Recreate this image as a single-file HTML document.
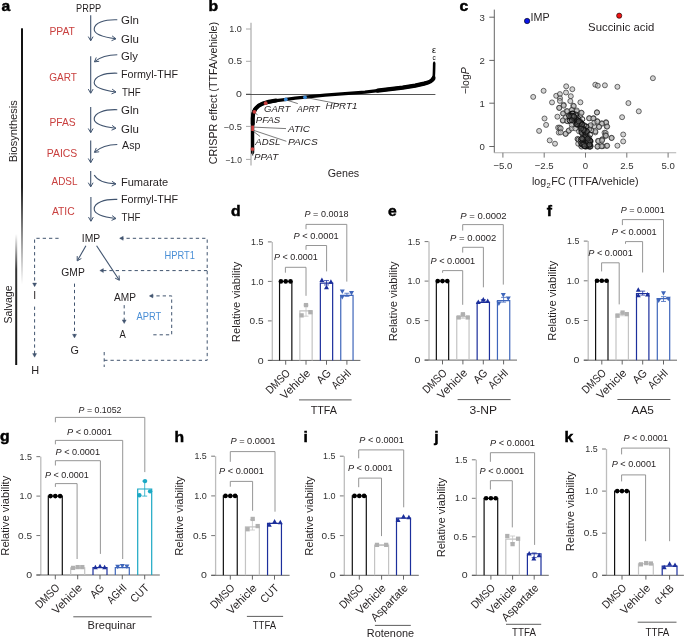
<!DOCTYPE html><html><head><meta charset="utf-8"><style>html,body{margin:0;padding:0;background:#fff;}svg{display:block;will-change:transform;}text{font-family:"Liberation Sans",sans-serif;}</style></head><body>
<svg width="685" height="637" viewBox="0 0 685 637">
<text x="0" y="0" font-size="14" font-weight="bold" fill="#000" stroke="#000" stroke-width="0.45" transform="translate(1.5,11.3) scale(1.12,1)">a</text>
<defs><linearGradient id="gb" x1="0" y1="0" x2="0" y2="1"><stop offset="0" stop-color="#111"/><stop offset="0.62" stop-color="#222"/><stop offset="1" stop-color="#fff"/></linearGradient><linearGradient id="gs" x1="0" y1="0" x2="0" y2="1"><stop offset="0" stop-color="#fff"/><stop offset="0.27" stop-color="#333"/><stop offset="1" stop-color="#111"/></linearGradient></defs>
<rect x="21.0" y="28.3" width="2" height="256" fill="url(#gb)"/>
<rect x="15.2" y="234" width="2" height="131" fill="url(#gs)"/>
<text x="0" y="0" font-size="10.4" fill="#231f20" textLength="62" lengthAdjust="spacingAndGlyphs" transform="translate(17.0,162.3) rotate(-90)">Biosynthesis</text>
<text x="0" y="0" font-size="10.4" fill="#231f20" textLength="38" lengthAdjust="spacingAndGlyphs" transform="translate(11.8,323.5) rotate(-90)">Salvage</text>
<text x="76.1" y="12.3" font-size="10.4" fill="#231f20" textLength="25.1" lengthAdjust="spacingAndGlyphs">PRPP</text>
<text x="49.4" y="35.2" font-size="10.4" fill="#c9403f" textLength="25.5" lengthAdjust="spacingAndGlyphs">PPAT</text>
<text x="49.3" y="80.7" font-size="10.4" fill="#c9403f" textLength="27.7" lengthAdjust="spacingAndGlyphs">GART</text>
<text x="49.4" y="125.7" font-size="10.4" fill="#c9403f" textLength="26.3" lengthAdjust="spacingAndGlyphs">PFAS</text>
<text x="46.8" y="157.3" font-size="10.4" fill="#c9403f" textLength="30.5" lengthAdjust="spacingAndGlyphs">PAICS</text>
<text x="51.6" y="184.9" font-size="10.4" fill="#c9403f" textLength="25.9" lengthAdjust="spacingAndGlyphs">ADSL</text>
<text x="51.9" y="214.7" font-size="10.4" fill="#c9403f" textLength="22.8" lengthAdjust="spacingAndGlyphs">ATIC</text>
<text x="121.0" y="23.9" font-size="10.4" fill="#231f20" textLength="17.9" lengthAdjust="spacingAndGlyphs">Gln</text>
<text x="121.0" y="42.8" font-size="10.4" fill="#231f20" textLength="17.9" lengthAdjust="spacingAndGlyphs">Glu</text>
<text x="121.0" y="59.9" font-size="10.4" fill="#231f20" textLength="17.0" lengthAdjust="spacingAndGlyphs">Gly</text>
<text x="120.9" y="77.7" font-size="10.4" fill="#231f20" textLength="57.1" lengthAdjust="spacingAndGlyphs">Formyl-THF</text>
<text x="121.9" y="96.3" font-size="10.4" fill="#231f20" textLength="18.8" lengthAdjust="spacingAndGlyphs">THF</text>
<text x="121.0" y="113.8" font-size="10.4" fill="#231f20" textLength="17.9" lengthAdjust="spacingAndGlyphs">Gln</text>
<text x="121.0" y="133.2" font-size="10.4" fill="#231f20" textLength="17.9" lengthAdjust="spacingAndGlyphs">Glu</text>
<text x="122.1" y="148.9" font-size="10.4" fill="#231f20" textLength="18.3" lengthAdjust="spacingAndGlyphs">Asp</text>
<text x="120.9" y="185.7" font-size="10.4" fill="#231f20" textLength="47.3" lengthAdjust="spacingAndGlyphs">Fumarate</text>
<text x="120.9" y="202.7" font-size="10.4" fill="#231f20" textLength="57.3" lengthAdjust="spacingAndGlyphs">Formyl-THF</text>
<text x="121.6" y="221.2" font-size="10.4" fill="#231f20" textLength="18.9" lengthAdjust="spacingAndGlyphs">THF</text>
<line x1="90.70" y1="15.30" x2="90.70" y2="40.50" stroke="#41546f" stroke-width="1.1"/>
<path d="M88.30,36.60L90.70,40.80L93.10,36.60" fill="none" stroke="#41546f" stroke-width="1" stroke-linejoin="miter"/>
<line x1="90.70" y1="56.20" x2="90.70" y2="93.00" stroke="#41546f" stroke-width="1.1"/>
<path d="M88.30,89.10L90.70,93.30L93.10,89.10" fill="none" stroke="#41546f" stroke-width="1" stroke-linejoin="miter"/>
<line x1="90.70" y1="106.90" x2="90.70" y2="132.40" stroke="#41546f" stroke-width="1.1"/>
<path d="M88.30,128.50L90.70,132.70L93.10,128.50" fill="none" stroke="#41546f" stroke-width="1" stroke-linejoin="miter"/>
<line x1="90.70" y1="140.40" x2="90.70" y2="162.40" stroke="#41546f" stroke-width="1.1"/>
<path d="M88.30,158.50L90.70,162.70L93.10,158.50" fill="none" stroke="#41546f" stroke-width="1" stroke-linejoin="miter"/>
<line x1="90.70" y1="171.00" x2="90.70" y2="186.60" stroke="#41546f" stroke-width="1.1"/>
<path d="M88.30,182.70L90.70,186.90L93.10,182.70" fill="none" stroke="#41546f" stroke-width="1" stroke-linejoin="miter"/>
<line x1="90.90" y1="196.90" x2="90.90" y2="221.00" stroke="#41546f" stroke-width="1.1"/>
<path d="M88.50,217.10L90.90,221.30L93.30,217.10" fill="none" stroke="#41546f" stroke-width="1" stroke-linejoin="miter"/>
<path d="M117.3,19.8C104,19.3 94.2,23.3 94.2,29.3C94.2,34.3 104,37.3 115.8,38.8" stroke="#41546f" stroke-width="1.1" fill="none"/>
<path d="M111.54,40.68L116.00,38.80L112.12,35.91" fill="none" stroke="#41546f" stroke-width="1" stroke-linejoin="miter"/>
<path d="M117.3,73.2C104,72.7 94.2,76.6 94.2,82.6C94.2,87.6 104,90.5 115.8,92.0" stroke="#41546f" stroke-width="1.1" fill="none"/>
<path d="M111.54,93.88L116.00,92.00L112.12,89.11" fill="none" stroke="#41546f" stroke-width="1" stroke-linejoin="miter"/>
<path d="M117.3,109.7C104,109.2 94.2,113.0 94.2,119.0C94.2,124.0 104,126.8 115.8,128.3" stroke="#41546f" stroke-width="1.1" fill="none"/>
<path d="M111.54,130.18L116.00,128.30L112.12,125.41" fill="none" stroke="#41546f" stroke-width="1" stroke-linejoin="miter"/>
<path d="M117.3,199.4C104,198.9 94.2,202.9 94.2,208.9C94.2,213.9 104,217.0 115.8,218.5" stroke="#41546f" stroke-width="1.1" fill="none"/>
<path d="M111.54,220.38L116.00,218.50L112.12,215.61" fill="none" stroke="#41546f" stroke-width="1" stroke-linejoin="miter"/>
<path d="M117.3,54.8C108,54.8 100,57.2 94.6,61.7" stroke="#41546f" stroke-width="1.1" fill="none"/>
<path d="M96.29,57.45L94.40,61.90L99.20,61.27" fill="none" stroke="#41546f" stroke-width="1" stroke-linejoin="miter"/>
<path d="M117.3,144.5C108,144.5 100,147.3 94.6,152.2" stroke="#41546f" stroke-width="1.1" fill="none"/>
<path d="M96.29,147.95L94.40,152.40L99.20,151.77" fill="none" stroke="#41546f" stroke-width="1" stroke-linejoin="miter"/>
<path d="M94.2,175.1C97,180 104,183.6 115.6,183.9" stroke="#41546f" stroke-width="1.1" fill="none"/>
<path d="M111.69,186.09L116.00,183.90L111.93,181.29" fill="none" stroke="#41546f" stroke-width="1" stroke-linejoin="miter"/>
<text x="81.8" y="242.0" font-size="10.4" fill="#231f20" textLength="18.4" lengthAdjust="spacingAndGlyphs">IMP</text>
<text x="61.3" y="275.6" font-size="10.4" fill="#231f20" textLength="23.5" lengthAdjust="spacingAndGlyphs">GMP</text>
<text x="114.0" y="300.5" font-size="10.4" fill="#231f20" textLength="22.0" lengthAdjust="spacingAndGlyphs">AMP</text>
<text x="33.2" y="299.0" font-size="10.4" fill="#231f20">I</text>
<text x="70.6" y="353.5" font-size="10.4" fill="#231f20" textLength="8.4" lengthAdjust="spacingAndGlyphs">G</text>
<text x="119.6" y="337.9" font-size="10.4" fill="#231f20" textLength="6.3" lengthAdjust="spacingAndGlyphs">A</text>
<text x="31.3" y="373.5" font-size="10.4" fill="#231f20" textLength="7.9" lengthAdjust="spacingAndGlyphs">H</text>
<text x="164.6" y="258.9" font-size="10.4" fill="#4a8fd6" textLength="30.3" lengthAdjust="spacingAndGlyphs">HPRT1</text>
<text x="136.4" y="320.4" font-size="10.4" fill="#4a8fd6" textLength="24.8" lengthAdjust="spacingAndGlyphs">APRT</text>
<line x1="85.90" y1="245.80" x2="77.60" y2="260.30" stroke="#41546f" stroke-width="1.1"/>
<path d="M77.22,256.06L77.20,260.90L81.38,258.46" fill="none" stroke="#41546f" stroke-width="1" stroke-linejoin="miter"/>
<line x1="96.60" y1="245.80" x2="119.00" y2="279.70" stroke="#41546f" stroke-width="1.1"/>
<path d="M115.08,278.12L119.40,280.30L119.09,275.47" fill="none" stroke="#41546f" stroke-width="1" stroke-linejoin="miter"/>
<path d="M58.6,238.3H34.6V286" stroke="#41546f" stroke-width="1.0" fill="none" stroke-dasharray="3.3,3"/>
<path d="M32.60,283.10L34.60,286.70L36.60,283.10Z" fill="#41546f" stroke="#41546f" stroke-width="0.4" stroke-linejoin="miter"/>
<path d="M34.6,306.6V356.5" stroke="#41546f" stroke-width="1.0" fill="none" stroke-dasharray="3.3,3"/>
<path d="M32.60,353.60L34.60,357.20L36.60,353.60Z" fill="#41546f" stroke="#41546f" stroke-width="0.4" stroke-linejoin="miter"/>
<path d="M74.5,283.6V337" stroke="#41546f" stroke-width="1.0" fill="none" stroke-dasharray="3.3,3"/>
<path d="M72.50,334.30L74.50,337.90L76.50,334.30Z" fill="#41546f" stroke="#41546f" stroke-width="0.4" stroke-linejoin="miter"/>
<path d="M124.2,305.1V322.8" stroke="#41546f" stroke-width="1.0" fill="none" stroke-dasharray="3.3,3"/>
<path d="M122.20,319.90L124.20,323.50L126.20,319.90Z" fill="#41546f" stroke="#41546f" stroke-width="0.4" stroke-linejoin="miter"/>
<path d="M120.2,238.3H207.2V360.3H104.2" stroke="#41546f" stroke-width="1.0" fill="none" stroke-dasharray="3.3,3"/>
<path d="M123.20,236.30L119.60,238.30L123.20,240.30Z" fill="#41546f" stroke="#41546f" stroke-width="0.4" stroke-linejoin="miter"/>
<path d="M104.2,352V367" stroke="#41546f" stroke-width="1.0" fill="none" stroke-dasharray="3.3,3"/>
<path d="M207.2,270.6H100.3" stroke="#41546f" stroke-width="1.0" fill="none" stroke-dasharray="3.3,3"/>
<path d="M103.40,268.60L99.80,270.60L103.40,272.60Z" fill="#41546f" stroke="#41546f" stroke-width="0.4" stroke-linejoin="miter"/>
<path d="M153.3,334.8H171.7V295.9H150" stroke="#41546f" stroke-width="1.0" fill="none" stroke-dasharray="3.3,3"/>
<path d="M152.90,293.90L149.30,295.90L152.90,297.90Z" fill="#41546f" stroke="#41546f" stroke-width="0.4" stroke-linejoin="miter"/>
<text x="0" y="0" font-size="14" font-weight="bold" fill="#000" stroke="#000" stroke-width="0.45" transform="translate(208.5,10.9) scale(1.12,1)">b</text>
<line x1="251.00" y1="22.80" x2="251.00" y2="165.60" stroke="#b8b8b8" stroke-width="1.4"/>
<line x1="246.00" y1="29.00" x2="251.00" y2="29.00" stroke="#aaa" stroke-width="1.0"/>
<text x="229.3" y="32.1" font-size="8.6" fill="#333" textLength="12.6" lengthAdjust="spacingAndGlyphs">1.0</text>
<line x1="246.00" y1="61.30" x2="251.00" y2="61.30" stroke="#aaa" stroke-width="1.0"/>
<text x="228.0" y="64.4" font-size="8.6" fill="#333" textLength="14.0" lengthAdjust="spacingAndGlyphs">0.5</text>
<line x1="246.00" y1="94.00" x2="251.00" y2="94.00" stroke="#aaa" stroke-width="1.0"/>
<text x="236.1" y="97.1" font-size="8.6" fill="#333" textLength="5.9" lengthAdjust="spacingAndGlyphs">0</text>
<line x1="246.00" y1="126.40" x2="251.00" y2="126.40" stroke="#aaa" stroke-width="1.0"/>
<text x="223.6" y="129.5" font-size="8.6" fill="#333" textLength="18.3" lengthAdjust="spacingAndGlyphs">−0.5</text>
<line x1="246.00" y1="159.40" x2="251.00" y2="159.40" stroke="#aaa" stroke-width="1.0"/>
<text x="225.2" y="162.5" font-size="8.6" fill="#333" textLength="16.7" lengthAdjust="spacingAndGlyphs">−1.0</text>
<line x1="246.00" y1="94.50" x2="435.40" y2="94.50" stroke="#444" stroke-width="0.9"/>
<text x="-0.54" y="0" font-size="10.2" fill="#231f20" textLength="142.41" lengthAdjust="spacingAndGlyphs" transform="translate(216.80,163.70) rotate(-90)">CRISPR effect (TTFA/vehicle)</text>
<text x="327.7" y="177.1" font-size="10.6" fill="#231f20" textLength="31.5" lengthAdjust="spacingAndGlyphs">Genes</text>
<path d="M252.6,152.5 L252.6,118 C252.7,110 256,106 262.6,103.6 C268,101.8 276,100.6 282.7,99.8 L295.2,98.2 L307.8,96.9 L325,95.2 L345,93.7 L365,92.2 L377.6,90.6 L390.1,89.2 L402.7,87.7 L415.2,85.6 L424,83.7 C429,82.5 432.6,80.6 433.7,77.2" stroke="#000" stroke-width="3.3" fill="none" stroke-linejoin="round" stroke-linecap="round"/>
<path d="M433.6,78.5 C434.0,75 434.1,70 434.2,63.2" stroke="#000" stroke-width="2.6" fill="none" stroke-linejoin="round" stroke-linecap="round"/>
<path d="M252.8,124 L252.8,118 C252.9,110 256,106 262.6,103.6 C267,102.1 271,101.3 276,100.6" stroke="#000" stroke-width="4.0" fill="none" stroke-linejoin="round" stroke-linecap="round"/>
<path d="M377.6,90.6 L390.1,89.2 L402.7,87.7 L415.2,85.6 L424,83.7 C429,82.5 432.4,80.8 433.4,78.5" stroke="#000" stroke-width="4.3" fill="none" stroke-linejoin="round" stroke-linecap="round"/>
<path d="M252.6,150 L252.6,155.5" stroke="#555" stroke-width="1.4" fill="none"/>
<path d="M434.2,64 L434.2,61.5" stroke="#000" stroke-width="1.2" fill="none"/>
<text x="432.0" y="52.9" font-size="9.0" fill="#000">ε</text>
<text x="432.4" y="59.9" font-size="6.4" fill="#000">c</text>
<line x1="253.20" y1="127.10" x2="286.00" y2="128.60" stroke="#444" stroke-width="0.7"/>
<line x1="253.20" y1="130.20" x2="286.40" y2="141.30" stroke="#444" stroke-width="0.7"/>
<line x1="253.20" y1="131.20" x2="260.10" y2="136.50" stroke="#444" stroke-width="0.7"/>
<line x1="285.80" y1="99.80" x2="297.80" y2="103.60" stroke="#444" stroke-width="0.7"/>
<line x1="305.00" y1="97.30" x2="340.00" y2="104.20" stroke="#444" stroke-width="0.7"/>
<line x1="254.40" y1="111.80" x2="257.60" y2="115.20" stroke="#444" stroke-width="0.7"/>
<circle cx="265.7" cy="103.2" r="1.9" fill="#c9403f"/>
<circle cx="254.4" cy="111.8" r="1.9" fill="#c9403f"/>
<circle cx="252.5" cy="149.1" r="1.9" fill="#c9403f"/>
<rect x="251.2" y="125.6" width="2.8" height="5.4" fill="#c9403f"/>
<circle cx="285.8" cy="99.4" r="1.9" fill="#3a86d0"/>
<circle cx="305.0" cy="97.3" r="1.9" fill="#3a86d0"/>
<text x="264.0" y="112.4" font-size="9.6" fill="#231f20" font-style="italic" textLength="26.3" lengthAdjust="spacingAndGlyphs">GART</text>
<text x="296.9" y="112.4" font-size="9.6" fill="#231f20" font-style="italic" textLength="22.9" lengthAdjust="spacingAndGlyphs">APRT</text>
<text x="325.6" y="108.9" font-size="9.6" fill="#231f20" font-style="italic" textLength="31.7" lengthAdjust="spacingAndGlyphs">HPRT1</text>
<text x="255.8" y="122.7" font-size="9.6" fill="#231f20" font-style="italic" textLength="24.5" lengthAdjust="spacingAndGlyphs">PFAS</text>
<text x="288.0" y="131.5" font-size="9.6" fill="#231f20" font-style="italic" textLength="22.1" lengthAdjust="spacingAndGlyphs">ATIC</text>
<text x="255.3" y="145.3" font-size="9.6" fill="#231f20" font-style="italic" textLength="24.9" lengthAdjust="spacingAndGlyphs">ADSL</text>
<text x="288.0" y="145.0" font-size="9.6" fill="#231f20" font-style="italic" textLength="29.7" lengthAdjust="spacingAndGlyphs">PAICS</text>
<text x="254.1" y="159.7" font-size="9.6" fill="#231f20" font-style="italic" textLength="24.0" lengthAdjust="spacingAndGlyphs">PPAT</text>
<text x="0" y="0" font-size="14" font-weight="bold" fill="#000" stroke="#000" stroke-width="0.45" transform="translate(459.5,11.4) scale(1.12,1)">c</text>
<line x1="494.30" y1="9.60" x2="494.30" y2="152.80" stroke="#555" stroke-width="0.9"/>
<line x1="494.30" y1="152.80" x2="676.20" y2="152.80" stroke="#b0b0b0" stroke-width="1.1"/>
<line x1="489.30" y1="17.20" x2="494.30" y2="17.20" stroke="#555" stroke-width="0.9"/>
<text x="484.9" y="20.6" font-size="9.6" fill="#333" text-anchor="end">3</text>
<line x1="489.30" y1="60.40" x2="494.30" y2="60.40" stroke="#555" stroke-width="0.9"/>
<text x="484.9" y="63.8" font-size="9.6" fill="#333" text-anchor="end">2</text>
<line x1="489.30" y1="103.20" x2="494.30" y2="103.20" stroke="#555" stroke-width="0.9"/>
<text x="484.9" y="106.6" font-size="9.6" fill="#333" text-anchor="end">1</text>
<line x1="489.30" y1="146.50" x2="494.30" y2="146.50" stroke="#555" stroke-width="0.9"/>
<text x="484.9" y="149.9" font-size="9.6" fill="#333" text-anchor="end">0</text>
<line x1="502.90" y1="152.80" x2="502.90" y2="157.60" stroke="#666" stroke-width="0.9"/>
<text x="502.9" y="169.2" font-size="9.6" fill="#333" text-anchor="middle">−5.0</text>
<line x1="544.20" y1="152.80" x2="544.20" y2="157.60" stroke="#666" stroke-width="0.9"/>
<text x="544.2" y="169.2" font-size="9.6" fill="#333" text-anchor="middle">−2.5</text>
<line x1="585.50" y1="152.80" x2="585.50" y2="157.60" stroke="#666" stroke-width="0.9"/>
<text x="585.5" y="169.2" font-size="9.6" fill="#333" text-anchor="middle">0</text>
<line x1="626.80" y1="152.80" x2="626.80" y2="157.60" stroke="#666" stroke-width="0.9"/>
<text x="626.8" y="169.2" font-size="9.6" fill="#333" text-anchor="middle">2.5</text>
<line x1="668.10" y1="152.80" x2="668.10" y2="157.60" stroke="#666" stroke-width="0.9"/>
<text x="668.1" y="169.2" font-size="9.6" fill="#333" text-anchor="middle">5.0</text>
<text x="0" y="0" font-size="10.6" fill="#231f20" text-anchor="middle" textLength="27" lengthAdjust="spacingAndGlyphs" transform="translate(469.0,80.8) rotate(-90)">−log<tspan font-style="italic">P</tspan></text>
<text x="532.0" y="185.4" font-size="10.6" fill="#231f20" textLength="14.2" lengthAdjust="spacingAndGlyphs">log</text>
<text x="546.5" y="188.0" font-size="7.2" fill="#231f20" textLength="4.2" lengthAdjust="spacingAndGlyphs">2</text>
<text x="551.2" y="185.4" font-size="10.6" fill="#231f20" textLength="87.4" lengthAdjust="spacingAndGlyphs">FC (TTFA/vehicle)</text>
<circle cx="533.2" cy="96.9" r="2.5" fill="#b8b8b8" fill-opacity="0.6" stroke="#222" stroke-width="0.65"/>
<circle cx="543.6" cy="90.8" r="2.5" fill="#b8b8b8" fill-opacity="0.6" stroke="#222" stroke-width="0.65"/>
<circle cx="566.2" cy="86.3" r="2.5" fill="#b8b8b8" fill-opacity="0.6" stroke="#222" stroke-width="0.65"/>
<circle cx="572.3" cy="89.2" r="2.5" fill="#b8b8b8" fill-opacity="0.6" stroke="#222" stroke-width="0.65"/>
<circle cx="566.0" cy="92.5" r="2.5" fill="#b8b8b8" fill-opacity="0.6" stroke="#222" stroke-width="0.65"/>
<circle cx="556.2" cy="95.8" r="2.5" fill="#b8b8b8" fill-opacity="0.6" stroke="#222" stroke-width="0.65"/>
<circle cx="559.9" cy="94.1" r="2.5" fill="#b8b8b8" fill-opacity="0.6" stroke="#222" stroke-width="0.65"/>
<circle cx="560.0" cy="98.2" r="2.5" fill="#b8b8b8" fill-opacity="0.6" stroke="#222" stroke-width="0.65"/>
<circle cx="559.9" cy="100.9" r="2.5" fill="#b8b8b8" fill-opacity="0.6" stroke="#222" stroke-width="0.65"/>
<circle cx="552.0" cy="102.4" r="2.5" fill="#b8b8b8" fill-opacity="0.6" stroke="#222" stroke-width="0.65"/>
<circle cx="570.8" cy="96.2" r="2.5" fill="#b8b8b8" fill-opacity="0.6" stroke="#222" stroke-width="0.65"/>
<circle cx="570.3" cy="101.1" r="2.5" fill="#b8b8b8" fill-opacity="0.6" stroke="#222" stroke-width="0.65"/>
<circle cx="563.7" cy="104.8" r="2.5" fill="#b8b8b8" fill-opacity="0.6" stroke="#222" stroke-width="0.65"/>
<circle cx="559.3" cy="107.8" r="2.5" fill="#b8b8b8" fill-opacity="0.6" stroke="#222" stroke-width="0.65"/>
<circle cx="573.2" cy="105.7" r="2.5" fill="#b8b8b8" fill-opacity="0.6" stroke="#222" stroke-width="0.65"/>
<circle cx="544.5" cy="118.5" r="2.5" fill="#b8b8b8" fill-opacity="0.6" stroke="#222" stroke-width="0.65"/>
<circle cx="546.1" cy="124.9" r="2.5" fill="#b8b8b8" fill-opacity="0.6" stroke="#222" stroke-width="0.65"/>
<circle cx="539.1" cy="130.9" r="2.5" fill="#b8b8b8" fill-opacity="0.6" stroke="#222" stroke-width="0.65"/>
<circle cx="549.7" cy="140.4" r="2.5" fill="#b8b8b8" fill-opacity="0.6" stroke="#222" stroke-width="0.65"/>
<circle cx="555.0" cy="143.7" r="2.5" fill="#b8b8b8" fill-opacity="0.6" stroke="#222" stroke-width="0.65"/>
<circle cx="557.4" cy="116.7" r="2.5" fill="#b8b8b8" fill-opacity="0.6" stroke="#222" stroke-width="0.65"/>
<circle cx="559.2" cy="107.9" r="2.5" fill="#b8b8b8" fill-opacity="0.6" stroke="#222" stroke-width="0.65"/>
<circle cx="563.7" cy="105.7" r="2.5" fill="#b8b8b8" fill-opacity="0.6" stroke="#222" stroke-width="0.65"/>
<circle cx="558.1" cy="127.6" r="2.5" fill="#b8b8b8" fill-opacity="0.6" stroke="#222" stroke-width="0.65"/>
<circle cx="558.8" cy="132.6" r="2.5" fill="#b8b8b8" fill-opacity="0.6" stroke="#222" stroke-width="0.65"/>
<circle cx="559.6" cy="127.6" r="2.5" fill="#b8b8b8" fill-opacity="0.6" stroke="#222" stroke-width="0.65"/>
<circle cx="565.8" cy="133.8" r="2.5" fill="#b8b8b8" fill-opacity="0.6" stroke="#222" stroke-width="0.65"/>
<circle cx="568.7" cy="130.9" r="2.5" fill="#b8b8b8" fill-opacity="0.6" stroke="#222" stroke-width="0.65"/>
<circle cx="562.8" cy="120.7" r="2.5" fill="#b8b8b8" fill-opacity="0.6" stroke="#222" stroke-width="0.65"/>
<circle cx="563.6" cy="113.6" r="2.5" fill="#b8b8b8" fill-opacity="0.6" stroke="#222" stroke-width="0.65"/>
<circle cx="565.8" cy="117.4" r="2.5" fill="#b8b8b8" fill-opacity="0.6" stroke="#222" stroke-width="0.65"/>
<circle cx="567.2" cy="121.1" r="2.5" fill="#b8b8b8" fill-opacity="0.6" stroke="#222" stroke-width="0.65"/>
<circle cx="570.1" cy="121.4" r="2.5" fill="#b8b8b8" fill-opacity="0.6" stroke="#222" stroke-width="0.65"/>
<circle cx="566.5" cy="111.2" r="2.5" fill="#b8b8b8" fill-opacity="0.6" stroke="#222" stroke-width="0.65"/>
<circle cx="572.3" cy="109.7" r="2.5" fill="#b8b8b8" fill-opacity="0.6" stroke="#222" stroke-width="0.65"/>
<circle cx="573.8" cy="106.1" r="2.5" fill="#b8b8b8" fill-opacity="0.6" stroke="#222" stroke-width="0.65"/>
<circle cx="573.1" cy="116.0" r="2.5" fill="#b8b8b8" fill-opacity="0.6" stroke="#222" stroke-width="0.65"/>
<circle cx="576.7" cy="111.6" r="2.5" fill="#b8b8b8" fill-opacity="0.6" stroke="#222" stroke-width="0.65"/>
<circle cx="577.8" cy="139.3" r="2.5" fill="#b8b8b8" fill-opacity="0.6" stroke="#222" stroke-width="0.65"/>
<circle cx="578.2" cy="143.7" r="2.5" fill="#b8b8b8" fill-opacity="0.6" stroke="#222" stroke-width="0.65"/>
<circle cx="562.9" cy="113.4" r="2.5" fill="#b8b8b8" fill-opacity="0.6" stroke="#222" stroke-width="0.65"/>
<circle cx="567.3" cy="111.2" r="2.5" fill="#b8b8b8" fill-opacity="0.6" stroke="#222" stroke-width="0.65"/>
<circle cx="571.7" cy="110.1" r="2.5" fill="#b8b8b8" fill-opacity="0.6" stroke="#222" stroke-width="0.65"/>
<circle cx="576.8" cy="110.5" r="2.5" fill="#b8b8b8" fill-opacity="0.6" stroke="#222" stroke-width="0.65"/>
<circle cx="581.2" cy="112.7" r="2.5" fill="#b8b8b8" fill-opacity="0.6" stroke="#222" stroke-width="0.65"/>
<circle cx="569.1" cy="115.2" r="2.5" fill="#b8b8b8" fill-opacity="0.6" stroke="#222" stroke-width="0.65"/>
<circle cx="573.1" cy="116.3" r="2.5" fill="#b8b8b8" fill-opacity="0.6" stroke="#222" stroke-width="0.65"/>
<circle cx="580.1" cy="116.3" r="2.5" fill="#b8b8b8" fill-opacity="0.6" stroke="#222" stroke-width="0.65"/>
<circle cx="562.9" cy="120.3" r="2.5" fill="#b8b8b8" fill-opacity="0.6" stroke="#222" stroke-width="0.65"/>
<circle cx="567.3" cy="121.1" r="2.5" fill="#b8b8b8" fill-opacity="0.6" stroke="#222" stroke-width="0.65"/>
<circle cx="570.6" cy="121.4" r="2.5" fill="#b8b8b8" fill-opacity="0.6" stroke="#222" stroke-width="0.65"/>
<circle cx="576.4" cy="118.1" r="2.5" fill="#b8b8b8" fill-opacity="0.6" stroke="#222" stroke-width="0.65"/>
<circle cx="589.2" cy="118.1" r="2.5" fill="#b8b8b8" fill-opacity="0.6" stroke="#222" stroke-width="0.65"/>
<circle cx="593.6" cy="118.1" r="2.5" fill="#b8b8b8" fill-opacity="0.6" stroke="#222" stroke-width="0.65"/>
<circle cx="597.2" cy="121.1" r="2.5" fill="#b8b8b8" fill-opacity="0.6" stroke="#222" stroke-width="0.65"/>
<circle cx="601.6" cy="123.2" r="2.5" fill="#b8b8b8" fill-opacity="0.6" stroke="#222" stroke-width="0.65"/>
<circle cx="606.0" cy="122.2" r="2.5" fill="#b8b8b8" fill-opacity="0.6" stroke="#222" stroke-width="0.65"/>
<circle cx="606.7" cy="126.5" r="2.5" fill="#b8b8b8" fill-opacity="0.6" stroke="#222" stroke-width="0.65"/>
<circle cx="599.1" cy="126.9" r="2.5" fill="#b8b8b8" fill-opacity="0.6" stroke="#222" stroke-width="0.65"/>
<circle cx="594.3" cy="126.2" r="2.5" fill="#b8b8b8" fill-opacity="0.6" stroke="#222" stroke-width="0.65"/>
<circle cx="589.9" cy="126.2" r="2.5" fill="#b8b8b8" fill-opacity="0.6" stroke="#222" stroke-width="0.65"/>
<circle cx="587.7" cy="129.8" r="2.5" fill="#b8b8b8" fill-opacity="0.6" stroke="#222" stroke-width="0.65"/>
<circle cx="591.4" cy="130.5" r="2.5" fill="#b8b8b8" fill-opacity="0.6" stroke="#222" stroke-width="0.65"/>
<circle cx="595.4" cy="132.4" r="2.5" fill="#b8b8b8" fill-opacity="0.6" stroke="#222" stroke-width="0.65"/>
<circle cx="565.5" cy="133.8" r="2.5" fill="#b8b8b8" fill-opacity="0.6" stroke="#222" stroke-width="0.65"/>
<circle cx="568.8" cy="130.5" r="2.5" fill="#b8b8b8" fill-opacity="0.6" stroke="#222" stroke-width="0.65"/>
<circle cx="571.7" cy="128.4" r="2.5" fill="#b8b8b8" fill-opacity="0.6" stroke="#222" stroke-width="0.65"/>
<circle cx="575.3" cy="128.4" r="2.5" fill="#b8b8b8" fill-opacity="0.6" stroke="#222" stroke-width="0.65"/>
<circle cx="571.7" cy="124.7" r="2.5" fill="#b8b8b8" fill-opacity="0.6" stroke="#222" stroke-width="0.65"/>
<circle cx="576.8" cy="124.3" r="2.5" fill="#b8b8b8" fill-opacity="0.6" stroke="#222" stroke-width="0.65"/>
<circle cx="581.2" cy="125.4" r="2.5" fill="#b8b8b8" fill-opacity="0.6" stroke="#222" stroke-width="0.65"/>
<circle cx="579.0" cy="131.3" r="2.5" fill="#b8b8b8" fill-opacity="0.6" stroke="#222" stroke-width="0.65"/>
<circle cx="581.9" cy="132.7" r="2.5" fill="#b8b8b8" fill-opacity="0.6" stroke="#222" stroke-width="0.65"/>
<circle cx="583.4" cy="128.4" r="2.5" fill="#b8b8b8" fill-opacity="0.6" stroke="#222" stroke-width="0.65"/>
<circle cx="577.5" cy="138.9" r="2.5" fill="#b8b8b8" fill-opacity="0.6" stroke="#222" stroke-width="0.65"/>
<circle cx="580.4" cy="141.5" r="2.5" fill="#b8b8b8" fill-opacity="0.6" stroke="#222" stroke-width="0.65"/>
<circle cx="585.5" cy="135.7" r="2.5" fill="#b8b8b8" fill-opacity="0.6" stroke="#222" stroke-width="0.65"/>
<circle cx="589.2" cy="137.8" r="2.5" fill="#b8b8b8" fill-opacity="0.6" stroke="#222" stroke-width="0.65"/>
<circle cx="590.7" cy="141.5" r="2.5" fill="#b8b8b8" fill-opacity="0.6" stroke="#222" stroke-width="0.65"/>
<circle cx="581.2" cy="145.9" r="2.5" fill="#b8b8b8" fill-opacity="0.6" stroke="#222" stroke-width="0.65"/>
<circle cx="585.2" cy="146.2" r="2.5" fill="#b8b8b8" fill-opacity="0.6" stroke="#222" stroke-width="0.65"/>
<circle cx="590.7" cy="145.9" r="2.5" fill="#b8b8b8" fill-opacity="0.6" stroke="#222" stroke-width="0.65"/>
<circle cx="604.5" cy="132.7" r="2.5" fill="#b8b8b8" fill-opacity="0.6" stroke="#222" stroke-width="0.65"/>
<circle cx="605.6" cy="135.7" r="2.5" fill="#b8b8b8" fill-opacity="0.6" stroke="#222" stroke-width="0.65"/>
<circle cx="598.0" cy="140.8" r="2.5" fill="#b8b8b8" fill-opacity="0.6" stroke="#222" stroke-width="0.65"/>
<circle cx="602.3" cy="139.3" r="2.5" fill="#b8b8b8" fill-opacity="0.6" stroke="#222" stroke-width="0.65"/>
<circle cx="598.0" cy="146.2" r="2.5" fill="#b8b8b8" fill-opacity="0.6" stroke="#222" stroke-width="0.65"/>
<circle cx="602.0" cy="146.2" r="2.5" fill="#b8b8b8" fill-opacity="0.6" stroke="#222" stroke-width="0.65"/>
<circle cx="606.7" cy="145.9" r="2.5" fill="#b8b8b8" fill-opacity="0.6" stroke="#222" stroke-width="0.65"/>
<circle cx="560.7" cy="128.4" r="2.5" fill="#b8b8b8" fill-opacity="0.6" stroke="#222" stroke-width="0.65"/>
<circle cx="560.7" cy="132.4" r="2.5" fill="#b8b8b8" fill-opacity="0.6" stroke="#222" stroke-width="0.65"/>
<circle cx="596.9" cy="112.3" r="2.5" fill="#b8b8b8" fill-opacity="0.6" stroke="#222" stroke-width="0.65"/>
<circle cx="581.6" cy="146.6" r="2.5" fill="#b8b8b8" fill-opacity="0.6" stroke="#222" stroke-width="0.65"/>
<circle cx="585.3" cy="146.6" r="2.5" fill="#b8b8b8" fill-opacity="0.6" stroke="#222" stroke-width="0.65"/>
<circle cx="590.4" cy="146.6" r="2.5" fill="#b8b8b8" fill-opacity="0.6" stroke="#222" stroke-width="0.65"/>
<circle cx="597.7" cy="146.6" r="2.5" fill="#b8b8b8" fill-opacity="0.6" stroke="#222" stroke-width="0.65"/>
<circle cx="602.8" cy="146.2" r="2.5" fill="#b8b8b8" fill-opacity="0.6" stroke="#222" stroke-width="0.65"/>
<circle cx="607.2" cy="145.7" r="2.5" fill="#b8b8b8" fill-opacity="0.6" stroke="#222" stroke-width="0.65"/>
<circle cx="617.4" cy="145.7" r="2.5" fill="#b8b8b8" fill-opacity="0.6" stroke="#222" stroke-width="0.65"/>
<circle cx="623.2" cy="141.4" r="2.5" fill="#b8b8b8" fill-opacity="0.6" stroke="#222" stroke-width="0.65"/>
<circle cx="623.2" cy="134.5" r="2.5" fill="#b8b8b8" fill-opacity="0.6" stroke="#222" stroke-width="0.65"/>
<circle cx="611.5" cy="137.8" r="2.5" fill="#b8b8b8" fill-opacity="0.6" stroke="#222" stroke-width="0.65"/>
<circle cx="605.7" cy="133.0" r="2.5" fill="#b8b8b8" fill-opacity="0.6" stroke="#222" stroke-width="0.65"/>
<circle cx="605.4" cy="135.2" r="2.5" fill="#b8b8b8" fill-opacity="0.6" stroke="#222" stroke-width="0.65"/>
<circle cx="602.0" cy="139.6" r="2.5" fill="#b8b8b8" fill-opacity="0.6" stroke="#222" stroke-width="0.65"/>
<circle cx="598.4" cy="141.1" r="2.5" fill="#b8b8b8" fill-opacity="0.6" stroke="#222" stroke-width="0.65"/>
<circle cx="578.7" cy="139.6" r="2.5" fill="#b8b8b8" fill-opacity="0.6" stroke="#222" stroke-width="0.65"/>
<circle cx="652.9" cy="78.2" r="2.5" fill="#b8b8b8" fill-opacity="0.6" stroke="#222" stroke-width="0.65"/>
<circle cx="595.3" cy="84.7" r="2.5" fill="#b8b8b8" fill-opacity="0.6" stroke="#222" stroke-width="0.65"/>
<circle cx="597.8" cy="85.7" r="2.5" fill="#b8b8b8" fill-opacity="0.6" stroke="#222" stroke-width="0.65"/>
<circle cx="604.9" cy="85.3" r="2.5" fill="#b8b8b8" fill-opacity="0.6" stroke="#222" stroke-width="0.65"/>
<circle cx="617.4" cy="86.8" r="2.5" fill="#b8b8b8" fill-opacity="0.6" stroke="#222" stroke-width="0.65"/>
<circle cx="628.4" cy="103.1" r="2.5" fill="#b8b8b8" fill-opacity="0.6" stroke="#222" stroke-width="0.65"/>
<circle cx="638.8" cy="111.3" r="2.5" fill="#b8b8b8" fill-opacity="0.6" stroke="#222" stroke-width="0.65"/>
<circle cx="622.1" cy="117.2" r="2.5" fill="#b8b8b8" fill-opacity="0.6" stroke="#222" stroke-width="0.65"/>
<circle cx="597.0" cy="112.5" r="2.5" fill="#b8b8b8" fill-opacity="0.6" stroke="#222" stroke-width="0.65"/>
<circle cx="580.4" cy="102.3" r="2.5" fill="#b8b8b8" fill-opacity="0.6" stroke="#222" stroke-width="0.65"/>
<circle cx="581.6" cy="112.9" r="2.5" fill="#b8b8b8" fill-opacity="0.6" stroke="#222" stroke-width="0.65"/>
<circle cx="611.7" cy="138.0" r="2.5" fill="#b8b8b8" fill-opacity="0.6" stroke="#222" stroke-width="0.65"/>
<circle cx="606.0" cy="135.8" r="2.5" fill="#b8b8b8" fill-opacity="0.6" stroke="#222" stroke-width="0.65"/>
<circle cx="606.1" cy="122.7" r="2.5" fill="#b8b8b8" fill-opacity="0.6" stroke="#222" stroke-width="0.65"/>
<circle cx="607.2" cy="126.6" r="2.5" fill="#b8b8b8" fill-opacity="0.6" stroke="#222" stroke-width="0.65"/>
<circle cx="602.0" cy="123.7" r="2.5" fill="#b8b8b8" fill-opacity="0.6" stroke="#222" stroke-width="0.65"/>
<circle cx="602.0" cy="140.5" r="2.5" fill="#b8b8b8" fill-opacity="0.6" stroke="#222" stroke-width="0.65"/>
<circle cx="589.2" cy="118.4" r="2.5" fill="#b8b8b8" fill-opacity="0.6" stroke="#222" stroke-width="0.65"/>
<circle cx="593.3" cy="118.6" r="2.5" fill="#b8b8b8" fill-opacity="0.6" stroke="#222" stroke-width="0.65"/>
<circle cx="594.3" cy="122.7" r="2.5" fill="#b8b8b8" fill-opacity="0.6" stroke="#222" stroke-width="0.65"/>
<circle cx="597.4" cy="121.7" r="2.5" fill="#b8b8b8" fill-opacity="0.6" stroke="#222" stroke-width="0.65"/>
<circle cx="599.0" cy="126.8" r="2.5" fill="#b8b8b8" fill-opacity="0.6" stroke="#222" stroke-width="0.65"/>
<circle cx="595.3" cy="131.3" r="2.5" fill="#b8b8b8" fill-opacity="0.6" stroke="#222" stroke-width="0.65"/>
<circle cx="591.2" cy="130.3" r="2.5" fill="#b8b8b8" fill-opacity="0.6" stroke="#222" stroke-width="0.65"/>
<circle cx="589.2" cy="129.2" r="2.5" fill="#b8b8b8" fill-opacity="0.6" stroke="#222" stroke-width="0.65"/>
<circle cx="590.6" cy="125.2" r="2.5" fill="#b8b8b8" fill-opacity="0.6" stroke="#222" stroke-width="0.65"/>
<circle cx="597.4" cy="146.6" r="2.5" fill="#b8b8b8" fill-opacity="0.6" stroke="#222" stroke-width="0.65"/>
<circle cx="601.5" cy="146.2" r="2.5" fill="#b8b8b8" fill-opacity="0.6" stroke="#222" stroke-width="0.65"/>
<circle cx="590.2" cy="146.6" r="2.5" fill="#b8b8b8" fill-opacity="0.6" stroke="#222" stroke-width="0.65"/>
<circle cx="586.1" cy="146.6" r="2.5" fill="#b8b8b8" fill-opacity="0.6" stroke="#222" stroke-width="0.65"/>
<circle cx="577.0" cy="122.2" r="2.5" fill="#c8c8c8" fill-opacity="0.35" stroke="#000" stroke-width="0.8"/>
<circle cx="570.4" cy="117.2" r="2.5" fill="#c8c8c8" fill-opacity="0.35" stroke="#000" stroke-width="0.8"/>
<circle cx="583.1" cy="126.8" r="2.5" fill="#c8c8c8" fill-opacity="0.35" stroke="#000" stroke-width="0.8"/>
<circle cx="581.7" cy="126.5" r="2.5" fill="#c8c8c8" fill-opacity="0.35" stroke="#000" stroke-width="0.8"/>
<circle cx="571.4" cy="114.2" r="2.5" fill="#c8c8c8" fill-opacity="0.35" stroke="#000" stroke-width="0.8"/>
<circle cx="572.1" cy="116.0" r="2.5" fill="#c8c8c8" fill-opacity="0.35" stroke="#000" stroke-width="0.8"/>
<circle cx="580.1" cy="124.0" r="2.5" fill="#c8c8c8" fill-opacity="0.35" stroke="#000" stroke-width="0.8"/>
<circle cx="576.2" cy="118.0" r="2.5" fill="#c8c8c8" fill-opacity="0.35" stroke="#000" stroke-width="0.8"/>
<circle cx="582.1" cy="130.8" r="2.5" fill="#c8c8c8" fill-opacity="0.35" stroke="#000" stroke-width="0.8"/>
<circle cx="580.5" cy="122.3" r="2.5" fill="#c8c8c8" fill-opacity="0.35" stroke="#000" stroke-width="0.8"/>
<circle cx="584.3" cy="145.3" r="2.5" fill="#c8c8c8" fill-opacity="0.35" stroke="#000" stroke-width="0.8"/>
<circle cx="576.5" cy="121.0" r="2.5" fill="#c8c8c8" fill-opacity="0.35" stroke="#000" stroke-width="0.8"/>
<circle cx="572.9" cy="117.8" r="2.5" fill="#c8c8c8" fill-opacity="0.35" stroke="#000" stroke-width="0.8"/>
<circle cx="585.5" cy="137.0" r="2.5" fill="#c8c8c8" fill-opacity="0.35" stroke="#000" stroke-width="0.8"/>
<circle cx="576.0" cy="115.8" r="2.5" fill="#c8c8c8" fill-opacity="0.35" stroke="#000" stroke-width="0.8"/>
<circle cx="580.3" cy="121.4" r="2.5" fill="#c8c8c8" fill-opacity="0.35" stroke="#000" stroke-width="0.8"/>
<circle cx="582.4" cy="127.8" r="2.5" fill="#c8c8c8" fill-opacity="0.35" stroke="#000" stroke-width="0.8"/>
<circle cx="575.0" cy="118.3" r="2.5" fill="#c8c8c8" fill-opacity="0.35" stroke="#000" stroke-width="0.8"/>
<circle cx="586.4" cy="131.3" r="2.5" fill="#c8c8c8" fill-opacity="0.35" stroke="#000" stroke-width="0.8"/>
<circle cx="583.1" cy="129.0" r="2.5" fill="#c8c8c8" fill-opacity="0.35" stroke="#000" stroke-width="0.8"/>
<circle cx="581.9" cy="124.0" r="2.5" fill="#c8c8c8" fill-opacity="0.35" stroke="#000" stroke-width="0.8"/>
<circle cx="582.2" cy="133.5" r="2.5" fill="#c8c8c8" fill-opacity="0.35" stroke="#000" stroke-width="0.8"/>
<circle cx="577.6" cy="117.6" r="2.5" fill="#c8c8c8" fill-opacity="0.35" stroke="#000" stroke-width="0.8"/>
<circle cx="588.1" cy="139.6" r="2.5" fill="#c8c8c8" fill-opacity="0.35" stroke="#000" stroke-width="0.8"/>
<circle cx="586.8" cy="133.1" r="2.5" fill="#c8c8c8" fill-opacity="0.35" stroke="#000" stroke-width="0.8"/>
<circle cx="569.7" cy="120.4" r="2.5" fill="#c8c8c8" fill-opacity="0.35" stroke="#000" stroke-width="0.8"/>
<circle cx="580.3" cy="123.6" r="2.5" fill="#c8c8c8" fill-opacity="0.35" stroke="#000" stroke-width="0.8"/>
<circle cx="582.7" cy="125.1" r="2.5" fill="#c8c8c8" fill-opacity="0.35" stroke="#000" stroke-width="0.8"/>
<circle cx="572.0" cy="113.5" r="2.5" fill="#c8c8c8" fill-opacity="0.35" stroke="#000" stroke-width="0.8"/>
<circle cx="585.8" cy="126.6" r="2.5" fill="#c8c8c8" fill-opacity="0.35" stroke="#000" stroke-width="0.8"/>
<circle cx="588.2" cy="139.6" r="2.5" fill="#c8c8c8" fill-opacity="0.35" stroke="#000" stroke-width="0.8"/>
<circle cx="581.6" cy="130.3" r="2.5" fill="#c8c8c8" fill-opacity="0.35" stroke="#000" stroke-width="0.8"/>
<circle cx="586.5" cy="126.5" r="2.5" fill="#c8c8c8" fill-opacity="0.35" stroke="#000" stroke-width="0.8"/>
<circle cx="586.6" cy="143.4" r="2.5" fill="#c8c8c8" fill-opacity="0.35" stroke="#000" stroke-width="0.8"/>
<circle cx="581.8" cy="125.0" r="2.5" fill="#c8c8c8" fill-opacity="0.35" stroke="#000" stroke-width="0.8"/>
<circle cx="585.8" cy="132.4" r="2.5" fill="#c8c8c8" fill-opacity="0.35" stroke="#000" stroke-width="0.8"/>
<circle cx="581.3" cy="131.8" r="2.5" fill="#c8c8c8" fill-opacity="0.35" stroke="#000" stroke-width="0.8"/>
<circle cx="577.2" cy="120.0" r="2.5" fill="#c8c8c8" fill-opacity="0.35" stroke="#000" stroke-width="0.8"/>
<circle cx="579.8" cy="122.5" r="2.5" fill="#c8c8c8" fill-opacity="0.35" stroke="#000" stroke-width="0.8"/>
<circle cx="581.5" cy="124.7" r="2.5" fill="#c8c8c8" fill-opacity="0.35" stroke="#000" stroke-width="0.8"/>
<circle cx="573.9" cy="117.7" r="2.5" fill="#c8c8c8" fill-opacity="0.35" stroke="#000" stroke-width="0.8"/>
<circle cx="585.7" cy="135.0" r="2.5" fill="#c8c8c8" fill-opacity="0.35" stroke="#000" stroke-width="0.8"/>
<circle cx="573.2" cy="116.6" r="2.5" fill="#c8c8c8" fill-opacity="0.35" stroke="#000" stroke-width="0.8"/>
<circle cx="585.2" cy="139.9" r="2.5" fill="#c8c8c8" fill-opacity="0.35" stroke="#000" stroke-width="0.8"/>
<circle cx="573.4" cy="113.8" r="2.5" fill="#c8c8c8" fill-opacity="0.35" stroke="#000" stroke-width="0.8"/>
<circle cx="586.4" cy="140.3" r="2.5" fill="#c8c8c8" fill-opacity="0.35" stroke="#000" stroke-width="0.8"/>
<circle cx="585.6" cy="137.1" r="2.5" fill="#c8c8c8" fill-opacity="0.35" stroke="#000" stroke-width="0.8"/>
<circle cx="581.3" cy="122.8" r="2.5" fill="#c8c8c8" fill-opacity="0.35" stroke="#000" stroke-width="0.8"/>
<circle cx="576.4" cy="124.5" r="2.5" fill="#c8c8c8" fill-opacity="0.35" stroke="#000" stroke-width="0.8"/>
<circle cx="575.8" cy="114.5" r="2.5" fill="#c8c8c8" fill-opacity="0.35" stroke="#000" stroke-width="0.8"/>
<circle cx="574.3" cy="117.6" r="2.5" fill="#c8c8c8" fill-opacity="0.35" stroke="#000" stroke-width="0.8"/>
<circle cx="580.6" cy="126.3" r="2.5" fill="#c8c8c8" fill-opacity="0.35" stroke="#000" stroke-width="0.8"/>
<circle cx="583.8" cy="128.7" r="2.5" fill="#c8c8c8" fill-opacity="0.35" stroke="#000" stroke-width="0.8"/>
<circle cx="580.2" cy="123.7" r="2.5" fill="#c8c8c8" fill-opacity="0.35" stroke="#000" stroke-width="0.8"/>
<circle cx="582.3" cy="119.2" r="2.5" fill="#c8c8c8" fill-opacity="0.35" stroke="#000" stroke-width="0.8"/>
<circle cx="586.9" cy="131.5" r="2.5" fill="#c8c8c8" fill-opacity="0.35" stroke="#000" stroke-width="0.8"/>
<circle cx="584.1" cy="125.3" r="2.5" fill="#c8c8c8" fill-opacity="0.35" stroke="#000" stroke-width="0.8"/>
<circle cx="572.6" cy="113.6" r="2.5" fill="#c8c8c8" fill-opacity="0.35" stroke="#000" stroke-width="0.8"/>
<circle cx="586.5" cy="141.1" r="2.5" fill="#c8c8c8" fill-opacity="0.35" stroke="#000" stroke-width="0.8"/>
<circle cx="590.1" cy="134.6" r="2.5" fill="#c8c8c8" fill-opacity="0.35" stroke="#000" stroke-width="0.8"/>
<circle cx="580.3" cy="122.3" r="2.5" fill="#c8c8c8" fill-opacity="0.35" stroke="#000" stroke-width="0.8"/>
<circle cx="583.9" cy="130.4" r="2.5" fill="#c8c8c8" fill-opacity="0.35" stroke="#000" stroke-width="0.8"/>
<circle cx="570.8" cy="116.2" r="2.5" fill="#c8c8c8" fill-opacity="0.35" stroke="#000" stroke-width="0.8"/>
<circle cx="573.7" cy="117.7" r="2.5" fill="#c8c8c8" fill-opacity="0.35" stroke="#000" stroke-width="0.8"/>
<circle cx="578.5" cy="121.5" r="2.5" fill="#c8c8c8" fill-opacity="0.35" stroke="#000" stroke-width="0.8"/>
<circle cx="573.8" cy="117.0" r="2.5" fill="#c8c8c8" fill-opacity="0.35" stroke="#000" stroke-width="0.8"/>
<circle cx="572.7" cy="115.8" r="2.5" fill="#c8c8c8" fill-opacity="0.35" stroke="#000" stroke-width="0.8"/>
<circle cx="586.7" cy="139.8" r="2.5" fill="#c8c8c8" fill-opacity="0.35" stroke="#000" stroke-width="0.8"/>
<circle cx="583.4" cy="129.8" r="2.5" fill="#c8c8c8" fill-opacity="0.35" stroke="#000" stroke-width="0.8"/>
<circle cx="577.9" cy="122.5" r="2.5" fill="#c8c8c8" fill-opacity="0.35" stroke="#000" stroke-width="0.8"/>
<circle cx="577.2" cy="124.0" r="2.5" fill="#c8c8c8" fill-opacity="0.35" stroke="#000" stroke-width="0.8"/>
<circle cx="585.4" cy="146.0" r="2.5" fill="#c8c8c8" fill-opacity="0.35" stroke="#000" stroke-width="0.8"/>
<circle cx="582.0" cy="124.5" r="2.5" fill="#c8c8c8" fill-opacity="0.35" stroke="#000" stroke-width="0.8"/>
<circle cx="572.5" cy="116.1" r="2.5" fill="#c8c8c8" fill-opacity="0.35" stroke="#000" stroke-width="0.8"/>
<circle cx="578.8" cy="121.3" r="2.5" fill="#c8c8c8" fill-opacity="0.35" stroke="#000" stroke-width="0.8"/>
<circle cx="571.8" cy="120.0" r="2.5" fill="#c8c8c8" fill-opacity="0.35" stroke="#000" stroke-width="0.8"/>
<circle cx="569.2" cy="116.2" r="2.5" fill="#c8c8c8" fill-opacity="0.35" stroke="#000" stroke-width="0.8"/>
<circle cx="574.1" cy="116.4" r="2.5" fill="#c8c8c8" fill-opacity="0.35" stroke="#000" stroke-width="0.8"/>
<circle cx="581.0" cy="128.6" r="2.5" fill="#c8c8c8" fill-opacity="0.35" stroke="#000" stroke-width="0.8"/>
<circle cx="587.4" cy="145.0" r="2.5" fill="#c8c8c8" fill-opacity="0.35" stroke="#000" stroke-width="0.8"/>
<circle cx="589.1" cy="143.7" r="2.5" fill="#c8c8c8" fill-opacity="0.35" stroke="#000" stroke-width="0.8"/>
<circle cx="583.1" cy="140.5" r="2.5" fill="#c8c8c8" fill-opacity="0.35" stroke="#000" stroke-width="0.8"/>
<circle cx="582.2" cy="144.4" r="2.5" fill="#c8c8c8" fill-opacity="0.35" stroke="#000" stroke-width="0.8"/>
<circle cx="585.8" cy="144.5" r="2.5" fill="#c8c8c8" fill-opacity="0.35" stroke="#000" stroke-width="0.8"/>
<circle cx="583.8" cy="139.1" r="2.5" fill="#c8c8c8" fill-opacity="0.35" stroke="#000" stroke-width="0.8"/>
<circle cx="588.6" cy="146.5" r="2.5" fill="#c8c8c8" fill-opacity="0.35" stroke="#000" stroke-width="0.8"/>
<circle cx="589.0" cy="144.7" r="2.5" fill="#c8c8c8" fill-opacity="0.35" stroke="#000" stroke-width="0.8"/>
<circle cx="588.7" cy="144.1" r="2.5" fill="#c8c8c8" fill-opacity="0.35" stroke="#000" stroke-width="0.8"/>
<circle cx="582.8" cy="142.0" r="2.5" fill="#c8c8c8" fill-opacity="0.35" stroke="#000" stroke-width="0.8"/>
<circle cx="584.1" cy="137.3" r="2.5" fill="#c8c8c8" fill-opacity="0.35" stroke="#000" stroke-width="0.8"/>
<circle cx="580.8" cy="139.7" r="2.5" fill="#c8c8c8" fill-opacity="0.35" stroke="#000" stroke-width="0.8"/>
<circle cx="583.1" cy="143.6" r="2.5" fill="#c8c8c8" fill-opacity="0.35" stroke="#000" stroke-width="0.8"/>
<circle cx="590.1" cy="141.3" r="2.5" fill="#c8c8c8" fill-opacity="0.35" stroke="#000" stroke-width="0.8"/>
<circle cx="589.9" cy="146.5" r="2.5" fill="#c8c8c8" fill-opacity="0.35" stroke="#000" stroke-width="0.8"/>
<circle cx="590.1" cy="140.5" r="2.5" fill="#c8c8c8" fill-opacity="0.35" stroke="#000" stroke-width="0.8"/>
<circle cx="582.7" cy="139.2" r="2.5" fill="#c8c8c8" fill-opacity="0.35" stroke="#000" stroke-width="0.8"/>
<circle cx="582.5" cy="139.0" r="2.5" fill="#c8c8c8" fill-opacity="0.35" stroke="#000" stroke-width="0.8"/>
<circle cx="586.7" cy="145.6" r="2.5" fill="#c8c8c8" fill-opacity="0.35" stroke="#000" stroke-width="0.8"/>
<circle cx="588.9" cy="141.6" r="2.5" fill="#c8c8c8" fill-opacity="0.35" stroke="#000" stroke-width="0.8"/>
<circle cx="587.0" cy="144.7" r="2.5" fill="#c8c8c8" fill-opacity="0.35" stroke="#000" stroke-width="0.8"/>
<circle cx="581.3" cy="143.3" r="2.5" fill="#c8c8c8" fill-opacity="0.35" stroke="#000" stroke-width="0.8"/>
<circle cx="589.6" cy="144.5" r="2.5" fill="#c8c8c8" fill-opacity="0.35" stroke="#000" stroke-width="0.8"/>
<circle cx="588.0" cy="141.6" r="2.5" fill="#c8c8c8" fill-opacity="0.35" stroke="#000" stroke-width="0.8"/>
<circle cx="582.3" cy="144.6" r="2.5" fill="#c8c8c8" fill-opacity="0.35" stroke="#000" stroke-width="0.8"/>
<circle cx="583.8" cy="144.7" r="2.5" fill="#c8c8c8" fill-opacity="0.35" stroke="#000" stroke-width="0.8"/>
<circle cx="590.2" cy="140.8" r="2.5" fill="#c8c8c8" fill-opacity="0.35" stroke="#000" stroke-width="0.8"/>
<circle cx="584.5" cy="146.1" r="2.5" fill="#c8c8c8" fill-opacity="0.35" stroke="#000" stroke-width="0.8"/>
<circle cx="587.7" cy="138.6" r="2.5" fill="#c8c8c8" fill-opacity="0.35" stroke="#000" stroke-width="0.8"/>
<circle cx="581.8" cy="138.5" r="2.5" fill="#c8c8c8" fill-opacity="0.35" stroke="#000" stroke-width="0.8"/>
<circle cx="589.5" cy="144.7" r="2.5" fill="#c8c8c8" fill-opacity="0.35" stroke="#000" stroke-width="0.8"/>
<path d="M568.1,112.8L574.3,113.6L580.4,120.1L583.9,123.6L586.5,128.9L590,135L592.2,139.4L592.2,146.8L587.4,147.6L580.9,146.8L579.1,141.2L580.9,136.8L582.1,133.3L578.6,128.9L574.3,125.4L570.8,121.9L568.6,117.5Z" fill="#1a1a1a" fill-opacity="0.5" stroke="none"/>
<circle cx="527.1" cy="21.0" r="2.7" fill="#0a14e6" stroke="#000" stroke-width="0.6"/>
<circle cx="619.2" cy="15.7" r="2.6" fill="#f01414" stroke="#000" stroke-width="0.6"/>
<text x="530.6" y="21.0" font-size="10.6" fill="#231f20" textLength="19.1" lengthAdjust="spacingAndGlyphs">IMP</text>
<text x="588.1" y="31.4" font-size="10.6" fill="#231f20" textLength="66.2" lengthAdjust="spacingAndGlyphs">Succinic acid</text>
<text x="0" y="0" font-size="14" font-weight="bold" fill="#000" stroke="#000" stroke-width="0.45" transform="translate(231.0,215.7) scale(1.12,1)">d</text>
<text x="0" y="0" font-size="14" font-weight="bold" fill="#000" stroke="#000" stroke-width="0.45" transform="translate(388.0,215.7) scale(1.12,1)">e</text>
<text x="0" y="0" font-size="14" font-weight="bold" fill="#000" stroke="#000" stroke-width="0.45" transform="translate(546.8,215.7) scale(1.12,1)">f</text>
<text x="0" y="0" font-size="14" font-weight="bold" fill="#000" stroke="#000" stroke-width="0.45" transform="translate(0.0,440.8) scale(1.12,1)">g</text>
<text x="0" y="0" font-size="14" font-weight="bold" fill="#000" stroke="#000" stroke-width="0.45" transform="translate(174.4,442.0) scale(1.12,1)">h</text>
<text x="0" y="0" font-size="14" font-weight="bold" fill="#000" stroke="#000" stroke-width="0.45" transform="translate(303.4,442.0) scale(1.12,1)">i</text>
<text x="0" y="0" font-size="14" font-weight="bold" fill="#000" stroke="#000" stroke-width="0.45" transform="translate(434.2,442.0) scale(1.12,1)">j</text>
<text x="0" y="0" font-size="14" font-weight="bold" fill="#000" stroke="#000" stroke-width="0.45" transform="translate(564.6,442.0) scale(1.12,1)">k</text>
<line x1="272.30" y1="241.90" x2="272.30" y2="360.40" stroke="#bdbdbd" stroke-width="1.3"/>
<line x1="267.90" y1="241.90" x2="271.70" y2="241.90" stroke="#666" stroke-width="0.9"/>
<text x="251.1" y="245.0" font-size="8.6" fill="#333" textLength="12.4" lengthAdjust="spacingAndGlyphs">1.5</text>
<line x1="267.90" y1="281.40" x2="271.70" y2="281.40" stroke="#666" stroke-width="0.9"/>
<text x="250.9" y="284.5" font-size="8.6" fill="#333" textLength="12.6" lengthAdjust="spacingAndGlyphs">1.0</text>
<line x1="267.90" y1="320.90" x2="271.70" y2="320.90" stroke="#666" stroke-width="0.9"/>
<text x="249.6" y="324.0" font-size="8.6" fill="#333" textLength="14.0" lengthAdjust="spacingAndGlyphs">0.5</text>
<line x1="267.90" y1="360.40" x2="271.70" y2="360.40" stroke="#666" stroke-width="0.9"/>
<text x="257.7" y="363.5" font-size="8.6" fill="#333" textLength="5.9" lengthAdjust="spacingAndGlyphs">0</text>
<line x1="267.90" y1="360.40" x2="360.40" y2="360.40" stroke="#555" stroke-width="0.9"/>
<text x="-0.90" y="0" font-size="10.8" fill="#231f20" textLength="80.49" lengthAdjust="spacingAndGlyphs" transform="translate(239.80,341.30) rotate(-90)">Relative viability</text>
<path d="M279.55,360.40V281.40H291.85V360.40" fill="none" stroke="#111" stroke-width="1.2"/>
<circle cx="280.90" cy="281.40" r="2.3" fill="#000"/>
<circle cx="285.70" cy="281.40" r="2.3" fill="#000"/>
<circle cx="290.50" cy="281.40" r="2.3" fill="#000"/>
<line x1="285.70" y1="360.40" x2="285.70" y2="364.70" stroke="#555" stroke-width="0.9"/>
<path d="M299.85,360.40V310.87H312.15V360.40" fill="none" stroke="#c4c4c4" stroke-width="1.2"/>
<line x1="306.00" y1="316.16" x2="306.00" y2="305.10" stroke="#c4c4c4" stroke-width="0.8"/>
<line x1="303.50" y1="305.10" x2="308.50" y2="305.10" stroke="#c4c4c4" stroke-width="0.8"/>
<line x1="303.50" y1="316.16" x2="308.50" y2="316.16" stroke="#c4c4c4" stroke-width="0.8"/>
<rect x="299.46" y="313.23" width="4.27" height="4.27" fill="#b0b0b0"/>
<rect x="303.86" y="302.96" width="4.27" height="4.27" fill="#b0b0b0"/>
<rect x="308.26" y="310.07" width="4.27" height="4.27" fill="#b0b0b0"/>
<line x1="306.00" y1="360.40" x2="306.00" y2="364.70" stroke="#555" stroke-width="0.9"/>
<path d="M320.35,360.40V283.22H332.65V360.40" fill="none" stroke="#1c2f9c" stroke-width="1.2"/>
<line x1="326.50" y1="284.95" x2="326.50" y2="280.61" stroke="#1c2f9c" stroke-width="0.8"/>
<line x1="324.00" y1="280.61" x2="329.00" y2="280.61" stroke="#1c2f9c" stroke-width="0.8"/>
<line x1="324.00" y1="284.95" x2="329.00" y2="284.95" stroke="#1c2f9c" stroke-width="0.8"/>
<path d="M319.42,282.07L324.38,282.07L321.90,277.57Z" fill="#1c2f9c"/>
<path d="M328.42,283.65L333.38,283.65L330.90,279.15Z" fill="#1c2f9c"/>
<path d="M324.02,289.18L328.98,289.18L326.50,284.68Z" fill="#1c2f9c"/>
<line x1="326.50" y1="360.40" x2="326.50" y2="364.70" stroke="#555" stroke-width="0.9"/>
<path d="M340.75,360.40V295.38H353.05V360.40" fill="none" stroke="#3f66bb" stroke-width="1.2"/>
<line x1="346.90" y1="296.41" x2="346.90" y2="293.25" stroke="#3f66bb" stroke-width="0.8"/>
<line x1="344.40" y1="293.25" x2="349.40" y2="293.25" stroke="#3f66bb" stroke-width="0.8"/>
<line x1="344.40" y1="296.41" x2="349.40" y2="296.41" stroke="#3f66bb" stroke-width="0.8"/>
<path d="M339.82,289.42L344.77,289.42L342.30,293.92Z" fill="#3f66bb"/>
<path d="M349.02,291.00L353.98,291.00L351.50,295.50Z" fill="#3f66bb"/>
<path d="M339.82,294.95L344.77,294.95L342.30,299.45Z" fill="#3f66bb"/>
<line x1="346.90" y1="360.40" x2="346.90" y2="364.70" stroke="#555" stroke-width="0.9"/>
<text x="0" y="0" font-size="11.2" fill="#231f20" text-anchor="end" textLength="29" lengthAdjust="spacingAndGlyphs" transform="translate(290.8,373.9) rotate(-45)">DMSO</text>
<text x="0" y="0" font-size="11.2" fill="#231f20" text-anchor="end" textLength="37" lengthAdjust="spacingAndGlyphs" transform="translate(311.0,373.9) rotate(-45)">Vehicle</text>
<text x="0" y="0" font-size="11.2" fill="#231f20" text-anchor="end" textLength="15" lengthAdjust="spacingAndGlyphs" transform="translate(331.6,373.9) rotate(-45)">AG</text>
<text x="0" y="0" font-size="11.2" fill="#231f20" text-anchor="end" textLength="22.5" lengthAdjust="spacingAndGlyphs" transform="translate(351.8,373.9) rotate(-45)">AGHI</text>
<line x1="299.00" y1="399.90" x2="351.60" y2="399.90" stroke="#555" stroke-width="0.95"/>
<text x="310.7" y="413.6" font-size="10.6" fill="#231f20" textLength="26.3" lengthAdjust="spacingAndGlyphs">TTFA</text>
<path d="M285.40,272.70V267.30H306.00V295.80" fill="none" stroke="#8a8a8a" stroke-width="0.9"/>
<text x="273.9" y="260.1" font-size="8.6" fill="#231f20" textLength="43.8" lengthAdjust="spacingAndGlyphs"><tspan font-style="italic">P</tspan> &lt; 0.0001</text>
<path d="M306.00,249.80V245.50H326.60V271.40" fill="none" stroke="#8a8a8a" stroke-width="0.9"/>
<text x="293.6" y="238.5" font-size="8.6" fill="#231f20" textLength="45.2" lengthAdjust="spacingAndGlyphs"><tspan font-style="italic">P</tspan> &lt; 0.0001</text>
<path d="M306.00,229.20V224.40H346.80V281.60" fill="none" stroke="#8a8a8a" stroke-width="0.9"/>
<text x="304.6" y="216.8" font-size="8.6" fill="#231f20" textLength="43.9" lengthAdjust="spacingAndGlyphs"><tspan font-style="italic">P</tspan> = 0.0018</text>
<line x1="429.00" y1="241.60" x2="429.00" y2="360.10" stroke="#bdbdbd" stroke-width="1.3"/>
<line x1="424.60" y1="241.60" x2="428.40" y2="241.60" stroke="#666" stroke-width="0.9"/>
<text x="407.8" y="244.7" font-size="8.6" fill="#333" textLength="12.4" lengthAdjust="spacingAndGlyphs">1.5</text>
<line x1="424.60" y1="281.10" x2="428.40" y2="281.10" stroke="#666" stroke-width="0.9"/>
<text x="407.6" y="284.2" font-size="8.6" fill="#333" textLength="12.6" lengthAdjust="spacingAndGlyphs">1.0</text>
<line x1="424.60" y1="320.60" x2="428.40" y2="320.60" stroke="#666" stroke-width="0.9"/>
<text x="406.3" y="323.7" font-size="8.6" fill="#333" textLength="14.0" lengthAdjust="spacingAndGlyphs">0.5</text>
<line x1="424.60" y1="360.10" x2="428.40" y2="360.10" stroke="#666" stroke-width="0.9"/>
<text x="414.4" y="363.2" font-size="8.6" fill="#333" textLength="5.9" lengthAdjust="spacingAndGlyphs">0</text>
<line x1="424.60" y1="360.10" x2="517.00" y2="360.10" stroke="#555" stroke-width="0.9"/>
<text x="-0.89" y="0" font-size="10.8" fill="#231f20" textLength="79.99" lengthAdjust="spacingAndGlyphs" transform="translate(397.00,340.50) rotate(-90)">Relative viability</text>
<path d="M436.35,360.10V281.10H448.65V360.10" fill="none" stroke="#111" stroke-width="1.2"/>
<circle cx="437.70" cy="281.10" r="2.3" fill="#000"/>
<circle cx="442.50" cy="281.10" r="2.3" fill="#000"/>
<circle cx="447.30" cy="281.10" r="2.3" fill="#000"/>
<line x1="442.50" y1="360.10" x2="442.50" y2="364.40" stroke="#555" stroke-width="0.9"/>
<path d="M456.75,360.10V316.65H469.05V360.10" fill="none" stroke="#c4c4c4" stroke-width="1.2"/>
<line x1="462.90" y1="318.23" x2="462.90" y2="314.28" stroke="#c4c4c4" stroke-width="0.8"/>
<line x1="460.40" y1="314.28" x2="465.40" y2="314.28" stroke="#c4c4c4" stroke-width="0.8"/>
<line x1="460.40" y1="318.23" x2="465.40" y2="318.23" stroke="#c4c4c4" stroke-width="0.8"/>
<rect x="456.56" y="315.30" width="4.27" height="4.27" fill="#b0b0b0"/>
<rect x="460.76" y="312.14" width="4.27" height="4.27" fill="#b0b0b0"/>
<rect x="465.56" y="315.30" width="4.27" height="4.27" fill="#b0b0b0"/>
<line x1="462.90" y1="360.10" x2="462.90" y2="364.40" stroke="#555" stroke-width="0.9"/>
<path d="M477.15,360.10V302.43H489.45V360.10" fill="none" stroke="#1c2f9c" stroke-width="1.2"/>
<line x1="483.30" y1="302.04" x2="483.30" y2="299.67" stroke="#1c2f9c" stroke-width="0.8"/>
<line x1="480.80" y1="299.67" x2="485.80" y2="299.67" stroke="#1c2f9c" stroke-width="0.8"/>
<line x1="480.80" y1="302.04" x2="485.80" y2="302.04" stroke="#1c2f9c" stroke-width="0.8"/>
<path d="M475.82,303.89L480.78,303.89L478.30,299.39Z" fill="#1c2f9c"/>
<path d="M480.82,301.44L485.78,301.44L483.30,296.94Z" fill="#1c2f9c"/>
<path d="M485.22,303.10L490.18,303.10L487.70,298.60Z" fill="#1c2f9c"/>
<line x1="483.30" y1="360.10" x2="483.30" y2="364.40" stroke="#555" stroke-width="0.9"/>
<path d="M497.45,360.10V300.53H509.75V360.10" fill="none" stroke="#3f66bb" stroke-width="1.2"/>
<line x1="503.60" y1="302.11" x2="503.60" y2="297.37" stroke="#3f66bb" stroke-width="0.8"/>
<line x1="501.10" y1="297.37" x2="506.10" y2="297.37" stroke="#3f66bb" stroke-width="0.8"/>
<line x1="501.10" y1="302.11" x2="506.10" y2="302.11" stroke="#3f66bb" stroke-width="0.8"/>
<path d="M496.43,301.44L501.38,301.44L498.90,305.94Z" fill="#3f66bb"/>
<path d="M500.82,293.07L505.78,293.07L503.30,297.57Z" fill="#3f66bb"/>
<path d="M505.82,296.62L510.78,296.62L508.30,301.12Z" fill="#3f66bb"/>
<line x1="503.60" y1="360.10" x2="503.60" y2="364.40" stroke="#555" stroke-width="0.9"/>
<text x="0" y="0" font-size="11.2" fill="#231f20" text-anchor="end" textLength="29" lengthAdjust="spacingAndGlyphs" transform="translate(447.5,373.6) rotate(-45)">DMSO</text>
<text x="0" y="0" font-size="11.2" fill="#231f20" text-anchor="end" textLength="37" lengthAdjust="spacingAndGlyphs" transform="translate(467.9,373.6) rotate(-45)">Vehicle</text>
<text x="0" y="0" font-size="11.2" fill="#231f20" text-anchor="end" textLength="15" lengthAdjust="spacingAndGlyphs" transform="translate(488.3,373.6) rotate(-45)">AG</text>
<text x="0" y="0" font-size="11.2" fill="#231f20" text-anchor="end" textLength="22.5" lengthAdjust="spacingAndGlyphs" transform="translate(508.7,373.6) rotate(-45)">AGHI</text>
<line x1="457.60" y1="399.60" x2="510.60" y2="399.60" stroke="#555" stroke-width="0.95"/>
<text x="469.6" y="413.5" font-size="10.6" fill="#231f20" textLength="27.5" lengthAdjust="spacingAndGlyphs">3-NP</text>
<path d="M442.60,272.80V270.60H462.70V304.80" fill="none" stroke="#8a8a8a" stroke-width="0.9"/>
<text x="430.5" y="264.0" font-size="8.6" fill="#231f20" textLength="44.6" lengthAdjust="spacingAndGlyphs"><tspan font-style="italic">P</tspan> &lt; 0.0001</text>
<path d="M462.70,252.60V247.30H483.40V287.30" fill="none" stroke="#8a8a8a" stroke-width="0.9"/>
<text x="450.1" y="240.5" font-size="8.6" fill="#231f20" textLength="46.3" lengthAdjust="spacingAndGlyphs"><tspan font-style="italic">P</tspan> = 0.0002</text>
<path d="M462.70,230.60V224.60H503.30V284.60" fill="none" stroke="#8a8a8a" stroke-width="0.9"/>
<text x="460.3" y="218.5" font-size="8.6" fill="#231f20" textLength="46.3" lengthAdjust="spacingAndGlyphs"><tspan font-style="italic">P</tspan> = 0.0002</text>
<line x1="588.20" y1="241.10" x2="588.20" y2="360.20" stroke="#bdbdbd" stroke-width="1.3"/>
<line x1="583.80" y1="241.10" x2="587.60" y2="241.10" stroke="#666" stroke-width="0.9"/>
<text x="567.0" y="244.2" font-size="8.6" fill="#333" textLength="12.4" lengthAdjust="spacingAndGlyphs">1.5</text>
<line x1="583.80" y1="280.80" x2="587.60" y2="280.80" stroke="#666" stroke-width="0.9"/>
<text x="566.8" y="283.9" font-size="8.6" fill="#333" textLength="12.6" lengthAdjust="spacingAndGlyphs">1.0</text>
<line x1="583.80" y1="320.50" x2="587.60" y2="320.50" stroke="#666" stroke-width="0.9"/>
<text x="565.5" y="323.6" font-size="8.6" fill="#333" textLength="14.0" lengthAdjust="spacingAndGlyphs">0.5</text>
<line x1="583.80" y1="360.20" x2="587.60" y2="360.20" stroke="#666" stroke-width="0.9"/>
<text x="573.6" y="363.3" font-size="8.6" fill="#333" textLength="5.9" lengthAdjust="spacingAndGlyphs">0</text>
<line x1="583.80" y1="360.20" x2="677.00" y2="360.20" stroke="#555" stroke-width="0.9"/>
<text x="-0.89" y="0" font-size="10.8" fill="#231f20" textLength="79.99" lengthAdjust="spacingAndGlyphs" transform="translate(556.00,339.80) rotate(-90)">Relative viability</text>
<path d="M595.60,360.20V280.80H608.00V360.20" fill="none" stroke="#111" stroke-width="1.2"/>
<circle cx="597.00" cy="280.80" r="2.3" fill="#000"/>
<circle cx="601.80" cy="280.80" r="2.3" fill="#000"/>
<circle cx="606.60" cy="280.80" r="2.3" fill="#000"/>
<line x1="601.80" y1="360.20" x2="601.80" y2="364.50" stroke="#555" stroke-width="0.9"/>
<path d="M616.00,360.20V314.15H628.40V360.20" fill="none" stroke="#c4c4c4" stroke-width="1.2"/>
<line x1="622.20" y1="315.74" x2="622.20" y2="312.56" stroke="#c4c4c4" stroke-width="0.8"/>
<line x1="619.70" y1="312.56" x2="624.70" y2="312.56" stroke="#c4c4c4" stroke-width="0.8"/>
<line x1="619.70" y1="315.74" x2="624.70" y2="315.74" stroke="#c4c4c4" stroke-width="0.8"/>
<rect x="615.46" y="313.60" width="4.27" height="4.27" fill="#b0b0b0"/>
<rect x="620.46" y="310.42" width="4.27" height="4.27" fill="#b0b0b0"/>
<rect x="624.66" y="312.01" width="4.27" height="4.27" fill="#b0b0b0"/>
<line x1="622.20" y1="360.20" x2="622.20" y2="364.50" stroke="#555" stroke-width="0.9"/>
<path d="M636.50,360.20V293.50H648.90V360.20" fill="none" stroke="#1c2f9c" stroke-width="1.2"/>
<line x1="642.70" y1="295.09" x2="642.70" y2="291.12" stroke="#1c2f9c" stroke-width="0.8"/>
<line x1="640.20" y1="291.12" x2="645.20" y2="291.12" stroke="#1c2f9c" stroke-width="0.8"/>
<line x1="640.20" y1="295.09" x2="645.20" y2="295.09" stroke="#1c2f9c" stroke-width="0.8"/>
<path d="M635.83,291.78L640.78,291.78L638.30,287.28Z" fill="#1c2f9c"/>
<path d="M635.83,297.34L640.78,297.34L638.30,292.84Z" fill="#1c2f9c"/>
<path d="M645.02,296.55L649.98,296.55L647.50,292.05Z" fill="#1c2f9c"/>
<line x1="642.70" y1="360.20" x2="642.70" y2="364.50" stroke="#555" stroke-width="0.9"/>
<path d="M657.30,360.20V298.66H669.70V360.20" fill="none" stroke="#3f66bb" stroke-width="1.2"/>
<line x1="663.50" y1="301.44" x2="663.50" y2="296.68" stroke="#3f66bb" stroke-width="0.8"/>
<line x1="661.00" y1="296.68" x2="666.00" y2="296.68" stroke="#3f66bb" stroke-width="0.8"/>
<line x1="661.00" y1="301.44" x2="666.00" y2="301.44" stroke="#3f66bb" stroke-width="0.8"/>
<path d="M661.02,291.25L665.98,291.25L663.50,295.75Z" fill="#3f66bb"/>
<path d="M656.23,298.40L661.18,298.40L658.70,302.90Z" fill="#3f66bb"/>
<path d="M665.82,296.81L670.77,296.81L668.30,301.31Z" fill="#3f66bb"/>
<line x1="663.50" y1="360.20" x2="663.50" y2="364.50" stroke="#555" stroke-width="0.9"/>
<text x="0" y="0" font-size="11.2" fill="#231f20" text-anchor="end" textLength="29" lengthAdjust="spacingAndGlyphs" transform="translate(606.8,373.7) rotate(-45)">DMSO</text>
<text x="0" y="0" font-size="11.2" fill="#231f20" text-anchor="end" textLength="37" lengthAdjust="spacingAndGlyphs" transform="translate(627.2,373.7) rotate(-45)">Vehicle</text>
<text x="0" y="0" font-size="11.2" fill="#231f20" text-anchor="end" textLength="15" lengthAdjust="spacingAndGlyphs" transform="translate(647.7,373.7) rotate(-45)">AG</text>
<text x="0" y="0" font-size="11.2" fill="#231f20" text-anchor="end" textLength="22.5" lengthAdjust="spacingAndGlyphs" transform="translate(668.5,373.7) rotate(-45)">AGHI</text>
<line x1="617.40" y1="399.50" x2="670.40" y2="399.50" stroke="#555" stroke-width="0.95"/>
<text x="631.5" y="413.7" font-size="10.6" fill="#231f20" textLength="22.4" lengthAdjust="spacingAndGlyphs">AA5</text>
<path d="M601.60,271.40V262.80H619.20V304.40" fill="none" stroke="#8a8a8a" stroke-width="0.9"/>
<text x="588.3" y="255.7" font-size="8.6" fill="#231f20" textLength="44.5" lengthAdjust="spacingAndGlyphs"><tspan font-style="italic">P</tspan> &lt; 0.0001</text>
<path d="M625.50,243.80V241.60H642.60V272.50" fill="none" stroke="#8a8a8a" stroke-width="0.9"/>
<text x="611.7" y="234.5" font-size="8.6" fill="#231f20" textLength="45.1" lengthAdjust="spacingAndGlyphs"><tspan font-style="italic">P</tspan> &lt; 0.0001</text>
<path d="M622.40,225.10V219.60H663.50V272.50" fill="none" stroke="#8a8a8a" stroke-width="0.9"/>
<text x="620.7" y="212.6" font-size="8.6" fill="#231f20" textLength="44.0" lengthAdjust="spacingAndGlyphs"><tspan font-style="italic">P</tspan> = 0.0001</text>
<line x1="40.80" y1="456.65" x2="40.80" y2="575.00" stroke="#bdbdbd" stroke-width="1.3"/>
<line x1="36.40" y1="456.65" x2="40.20" y2="456.65" stroke="#666" stroke-width="0.9"/>
<text x="19.6" y="459.7" font-size="8.6" fill="#333" textLength="12.4" lengthAdjust="spacingAndGlyphs">1.5</text>
<line x1="36.40" y1="496.10" x2="40.20" y2="496.10" stroke="#666" stroke-width="0.9"/>
<text x="19.4" y="499.2" font-size="8.6" fill="#333" textLength="12.6" lengthAdjust="spacingAndGlyphs">1.0</text>
<line x1="36.40" y1="535.55" x2="40.20" y2="535.55" stroke="#666" stroke-width="0.9"/>
<text x="18.1" y="538.6" font-size="8.6" fill="#333" textLength="14.0" lengthAdjust="spacingAndGlyphs">0.5</text>
<line x1="36.40" y1="575.00" x2="40.20" y2="575.00" stroke="#666" stroke-width="0.9"/>
<text x="26.2" y="578.1" font-size="8.6" fill="#333" textLength="5.9" lengthAdjust="spacingAndGlyphs">0</text>
<line x1="36.40" y1="575.00" x2="159.80" y2="575.00" stroke="#555" stroke-width="0.9"/>
<text x="-0.89" y="0" font-size="10.8" fill="#231f20" textLength="79.99" lengthAdjust="spacingAndGlyphs" transform="translate(8.50,554.80) rotate(-90)">Relative viability</text>
<path d="M48.30,575.00V496.10H62.30V575.00" fill="none" stroke="#111" stroke-width="1.2"/>
<circle cx="50.50" cy="496.10" r="2.3" fill="#000"/>
<circle cx="55.30" cy="496.10" r="2.3" fill="#000"/>
<circle cx="60.10" cy="496.10" r="2.3" fill="#000"/>
<line x1="55.30" y1="575.00" x2="55.30" y2="579.30" stroke="#555" stroke-width="0.9"/>
<path d="M70.70,575.00V567.90H84.70V575.00" fill="none" stroke="#c4c4c4" stroke-width="1.2"/>
<rect x="70.96" y="565.76" width="4.27" height="4.27" fill="#b0b0b0"/>
<rect x="75.56" y="564.97" width="4.27" height="4.27" fill="#b0b0b0"/>
<rect x="80.16" y="564.97" width="4.27" height="4.27" fill="#b0b0b0"/>
<line x1="77.70" y1="575.00" x2="77.70" y2="579.30" stroke="#555" stroke-width="0.9"/>
<path d="M93.00,575.00V567.50H107.00V575.00" fill="none" stroke="#1c2f9c" stroke-width="1.2"/>
<path d="M92.93,569.36L97.88,569.36L95.40,564.86Z" fill="#1c2f9c"/>
<path d="M97.53,568.18L102.47,568.18L100.00,563.68Z" fill="#1c2f9c"/>
<path d="M102.12,569.36L107.07,569.36L104.60,564.86Z" fill="#1c2f9c"/>
<line x1="100.00" y1="575.00" x2="100.00" y2="579.30" stroke="#555" stroke-width="0.9"/>
<path d="M115.30,575.00V567.58H129.30V575.00" fill="none" stroke="#3f66bb" stroke-width="1.2"/>
<path d="M115.23,564.86L120.17,564.86L117.70,569.36Z" fill="#3f66bb"/>
<path d="M119.83,564.07L124.77,564.07L122.30,568.57Z" fill="#3f66bb"/>
<path d="M124.42,564.47L129.38,564.47L126.90,568.97Z" fill="#3f66bb"/>
<line x1="122.30" y1="575.00" x2="122.30" y2="579.30" stroke="#555" stroke-width="0.9"/>
<path d="M137.70,575.00V489.00H151.70V575.00" fill="none" stroke="#1ba8c4" stroke-width="1.2"/>
<line x1="144.70" y1="496.10" x2="144.70" y2="481.11" stroke="#1ba8c4" stroke-width="0.8"/>
<line x1="142.20" y1="481.11" x2="147.20" y2="481.11" stroke="#1ba8c4" stroke-width="0.8"/>
<line x1="142.20" y1="496.10" x2="147.20" y2="496.10" stroke="#1ba8c4" stroke-width="0.8"/>
<circle cx="145.00" cy="481.11" r="2.2" fill="#1ba8c4"/>
<circle cx="139.40" cy="495.31" r="2.2" fill="#1ba8c4"/>
<circle cx="150.10" cy="491.37" r="2.2" fill="#1ba8c4"/>
<line x1="144.70" y1="575.00" x2="144.70" y2="579.30" stroke="#555" stroke-width="0.9"/>
<text x="0" y="0" font-size="11.2" fill="#231f20" text-anchor="end" textLength="29" lengthAdjust="spacingAndGlyphs" transform="translate(60.3,588.5) rotate(-45)">DMSO</text>
<text x="0" y="0" font-size="11.2" fill="#231f20" text-anchor="end" textLength="37" lengthAdjust="spacingAndGlyphs" transform="translate(82.7,588.5) rotate(-45)">Vehicle</text>
<text x="0" y="0" font-size="11.2" fill="#231f20" text-anchor="end" textLength="15" lengthAdjust="spacingAndGlyphs" transform="translate(105.0,588.5) rotate(-45)">AG</text>
<text x="0" y="0" font-size="11.2" fill="#231f20" text-anchor="end" textLength="22.5" lengthAdjust="spacingAndGlyphs" transform="translate(127.3,588.5) rotate(-45)">AGHI</text>
<text x="0" y="0" font-size="11.2" fill="#231f20" text-anchor="end" textLength="21" lengthAdjust="spacingAndGlyphs" transform="translate(149.7,588.5) rotate(-45)">CUT</text>
<line x1="73.30" y1="616.80" x2="151.70" y2="616.80" stroke="#555" stroke-width="0.95"/>
<text x="87.6" y="628.6" font-size="10.6" fill="#231f20" textLength="48.2" lengthAdjust="spacingAndGlyphs">Brequinar</text>
<path d="M55.40,486.90V483.60H77.10V559.00" fill="none" stroke="#8a8a8a" stroke-width="0.9"/>
<text x="44.9" y="478.4" font-size="8.6" fill="#231f20" textLength="43.9" lengthAdjust="spacingAndGlyphs"><tspan font-style="italic">P</tspan> &lt; 0.0001</text>
<path d="M55.40,465.50V460.70H100.40V553.90" fill="none" stroke="#8a8a8a" stroke-width="0.9"/>
<text x="55.5" y="454.6" font-size="8.6" fill="#231f20" textLength="44.5" lengthAdjust="spacingAndGlyphs"><tspan font-style="italic">P</tspan> &lt; 0.0001</text>
<path d="M55.40,444.30V440.40H122.70V559.00" fill="none" stroke="#8a8a8a" stroke-width="0.9"/>
<text x="66.9" y="434.5" font-size="8.6" fill="#231f20" textLength="45.0" lengthAdjust="spacingAndGlyphs"><tspan font-style="italic">P</tspan> &lt; 0.0001</text>
<path d="M55.40,422.30V417.40H144.80V472.10" fill="none" stroke="#8a8a8a" stroke-width="0.9"/>
<text x="78.6" y="412.5" font-size="8.6" fill="#231f20" textLength="42.9" lengthAdjust="spacingAndGlyphs"><tspan font-style="italic">P</tspan> = 0.1052</text>
<line x1="215.60" y1="456.20" x2="215.60" y2="575.30" stroke="#bdbdbd" stroke-width="1.3"/>
<line x1="211.20" y1="456.20" x2="215.00" y2="456.20" stroke="#666" stroke-width="0.9"/>
<text x="194.4" y="459.3" font-size="8.6" fill="#333" textLength="12.4" lengthAdjust="spacingAndGlyphs">1.5</text>
<line x1="211.20" y1="495.90" x2="215.00" y2="495.90" stroke="#666" stroke-width="0.9"/>
<text x="194.2" y="499.0" font-size="8.6" fill="#333" textLength="12.6" lengthAdjust="spacingAndGlyphs">1.0</text>
<line x1="211.20" y1="535.60" x2="215.00" y2="535.60" stroke="#666" stroke-width="0.9"/>
<text x="192.9" y="538.7" font-size="8.6" fill="#333" textLength="14.0" lengthAdjust="spacingAndGlyphs">0.5</text>
<line x1="211.20" y1="575.30" x2="215.00" y2="575.30" stroke="#666" stroke-width="0.9"/>
<text x="201.0" y="578.4" font-size="8.6" fill="#333" textLength="5.9" lengthAdjust="spacingAndGlyphs">0</text>
<line x1="211.20" y1="575.30" x2="289.60" y2="575.30" stroke="#555" stroke-width="0.9"/>
<text x="-0.88" y="0" font-size="10.8" fill="#231f20" textLength="79.28" lengthAdjust="spacingAndGlyphs" transform="translate(183.40,554.80) rotate(-90)">Relative viability</text>
<path d="M223.35,575.30V495.90H237.25V575.30" fill="none" stroke="#111" stroke-width="1.2"/>
<circle cx="225.50" cy="495.90" r="2.3" fill="#000"/>
<circle cx="230.30" cy="495.90" r="2.3" fill="#000"/>
<circle cx="235.10" cy="495.90" r="2.3" fill="#000"/>
<line x1="230.30" y1="575.30" x2="230.30" y2="579.60" stroke="#555" stroke-width="0.9"/>
<path d="M245.45,575.30V526.87H259.35V575.30" fill="none" stroke="#c4c4c4" stroke-width="1.2"/>
<line x1="252.40" y1="530.04" x2="252.40" y2="519.72" stroke="#c4c4c4" stroke-width="0.8"/>
<line x1="249.90" y1="519.72" x2="254.90" y2="519.72" stroke="#c4c4c4" stroke-width="0.8"/>
<line x1="249.90" y1="530.04" x2="254.90" y2="530.04" stroke="#c4c4c4" stroke-width="0.8"/>
<rect x="245.46" y="527.11" width="4.27" height="4.27" fill="#b0b0b0"/>
<rect x="250.56" y="516.79" width="4.27" height="4.27" fill="#b0b0b0"/>
<rect x="255.56" y="523.93" width="4.27" height="4.27" fill="#b0b0b0"/>
<line x1="252.40" y1="575.30" x2="252.40" y2="579.60" stroke="#555" stroke-width="0.9"/>
<path d="M267.55,575.30V523.29H281.45V575.30" fill="none" stroke="#1c2f9c" stroke-width="1.2"/>
<path d="M266.82,526.73L271.78,526.73L269.30,522.23Z" fill="#1c2f9c"/>
<path d="M272.12,523.56L277.08,523.56L274.60,519.06Z" fill="#1c2f9c"/>
<path d="M277.82,524.35L282.78,524.35L280.30,519.85Z" fill="#1c2f9c"/>
<line x1="274.50" y1="575.30" x2="274.50" y2="579.60" stroke="#555" stroke-width="0.9"/>
<text x="0" y="0" font-size="11.2" fill="#231f20" text-anchor="end" textLength="29" lengthAdjust="spacingAndGlyphs" transform="translate(235.3,588.8) rotate(-45)">DMSO</text>
<text x="0" y="0" font-size="11.2" fill="#231f20" text-anchor="end" textLength="37" lengthAdjust="spacingAndGlyphs" transform="translate(257.4,588.8) rotate(-45)">Vehicle</text>
<text x="0" y="0" font-size="11.2" fill="#231f20" text-anchor="end" textLength="21" lengthAdjust="spacingAndGlyphs" transform="translate(279.5,588.8) rotate(-45)">CUT</text>
<line x1="246.90" y1="616.40" x2="283.10" y2="616.40" stroke="#555" stroke-width="0.95"/>
<text x="252.8" y="629.0" font-size="10.6" fill="#231f20" textLength="23.3" lengthAdjust="spacingAndGlyphs">TTFA</text>
<path d="M230.30,486.70V481.40H252.60V510.80" fill="none" stroke="#8a8a8a" stroke-width="0.9"/>
<text x="219.0" y="474.4" font-size="8.6" fill="#231f20" textLength="44.9" lengthAdjust="spacingAndGlyphs"><tspan font-style="italic">P</tspan> &lt; 0.0001</text>
<path d="M230.30,461.80V451.60H275.00V511.70" fill="none" stroke="#8a8a8a" stroke-width="0.9"/>
<text x="230.4" y="444.3" font-size="8.6" fill="#231f20" textLength="45.0" lengthAdjust="spacingAndGlyphs"><tspan font-style="italic">P</tspan> = 0.0001</text>
<line x1="344.30" y1="456.20" x2="344.30" y2="575.30" stroke="#bdbdbd" stroke-width="1.3"/>
<line x1="339.90" y1="456.20" x2="343.70" y2="456.20" stroke="#666" stroke-width="0.9"/>
<text x="323.1" y="459.3" font-size="8.6" fill="#333" textLength="12.4" lengthAdjust="spacingAndGlyphs">1.5</text>
<line x1="339.90" y1="495.90" x2="343.70" y2="495.90" stroke="#666" stroke-width="0.9"/>
<text x="322.9" y="499.0" font-size="8.6" fill="#333" textLength="12.6" lengthAdjust="spacingAndGlyphs">1.0</text>
<line x1="339.90" y1="535.60" x2="343.70" y2="535.60" stroke="#666" stroke-width="0.9"/>
<text x="321.6" y="538.7" font-size="8.6" fill="#333" textLength="14.0" lengthAdjust="spacingAndGlyphs">0.5</text>
<line x1="339.90" y1="575.30" x2="343.70" y2="575.30" stroke="#666" stroke-width="0.9"/>
<text x="329.7" y="578.4" font-size="8.6" fill="#333" textLength="5.9" lengthAdjust="spacingAndGlyphs">0</text>
<line x1="339.90" y1="575.30" x2="418.80" y2="575.30" stroke="#555" stroke-width="0.9"/>
<text x="-0.88" y="0" font-size="10.8" fill="#231f20" textLength="79.28" lengthAdjust="spacingAndGlyphs" transform="translate(313.40,554.80) rotate(-90)">Relative viability</text>
<path d="M352.30,575.30V495.90H366.30V575.30" fill="none" stroke="#111" stroke-width="1.2"/>
<circle cx="354.50" cy="495.90" r="2.3" fill="#000"/>
<circle cx="359.30" cy="495.90" r="2.3" fill="#000"/>
<circle cx="364.10" cy="495.90" r="2.3" fill="#000"/>
<line x1="359.30" y1="575.30" x2="359.30" y2="579.60" stroke="#555" stroke-width="0.9"/>
<path d="M374.60,575.30V545.13H388.60V575.30" fill="none" stroke="#c4c4c4" stroke-width="1.2"/>
<line x1="381.60" y1="545.52" x2="381.60" y2="544.73" stroke="#c4c4c4" stroke-width="0.8"/>
<line x1="379.10" y1="544.73" x2="384.10" y2="544.73" stroke="#c4c4c4" stroke-width="0.8"/>
<line x1="379.10" y1="545.52" x2="384.10" y2="545.52" stroke="#c4c4c4" stroke-width="0.8"/>
<rect x="374.86" y="542.75" width="4.27" height="4.27" fill="#b0b0b0"/>
<rect x="384.06" y="542.75" width="4.27" height="4.27" fill="#b0b0b0"/>
<line x1="381.60" y1="575.30" x2="381.60" y2="579.60" stroke="#555" stroke-width="0.9"/>
<path d="M396.50,575.30V518.13H410.50V575.30" fill="none" stroke="#1c2f9c" stroke-width="1.2"/>
<path d="M395.62,521.97L400.58,521.97L398.10,517.47Z" fill="#1c2f9c"/>
<path d="M401.02,518.40L405.98,518.40L403.50,513.90Z" fill="#1c2f9c"/>
<path d="M406.42,519.19L411.38,519.19L408.90,514.69Z" fill="#1c2f9c"/>
<line x1="403.50" y1="575.30" x2="403.50" y2="579.60" stroke="#555" stroke-width="0.9"/>
<text x="0" y="0" font-size="11.2" fill="#231f20" text-anchor="end" textLength="29" lengthAdjust="spacingAndGlyphs" transform="translate(364.3,588.8) rotate(-45)">DMSO</text>
<text x="0" y="0" font-size="11.2" fill="#231f20" text-anchor="end" textLength="37" lengthAdjust="spacingAndGlyphs" transform="translate(386.6,588.8) rotate(-45)">Vehicle</text>
<text x="0" y="0" font-size="11.2" fill="#231f20" text-anchor="end" textLength="47" lengthAdjust="spacingAndGlyphs" transform="translate(408.5,588.8) rotate(-45)">Aspartate</text>
<line x1="374.90" y1="625.40" x2="410.80" y2="625.40" stroke="#555" stroke-width="0.95"/>
<text x="366.8" y="636.5" font-size="10.6" fill="#231f20" textLength="47.3" lengthAdjust="spacingAndGlyphs">Rotenone</text>
<path d="M358.70,487.20V478.10H381.50V536.10" fill="none" stroke="#8a8a8a" stroke-width="0.9"/>
<text x="347.9" y="471.4" font-size="8.6" fill="#231f20" textLength="44.8" lengthAdjust="spacingAndGlyphs"><tspan font-style="italic">P</tspan> &lt; 0.0001</text>
<path d="M358.70,458.30V449.90H403.70V507.30" fill="none" stroke="#8a8a8a" stroke-width="0.9"/>
<text x="359.3" y="442.5" font-size="8.6" fill="#231f20" textLength="44.5" lengthAdjust="spacingAndGlyphs"><tspan font-style="italic">P</tspan> &lt; 0.0001</text>
<line x1="476.30" y1="459.80" x2="476.30" y2="575.30" stroke="#bdbdbd" stroke-width="1.3"/>
<line x1="471.90" y1="459.80" x2="475.70" y2="459.80" stroke="#666" stroke-width="0.9"/>
<text x="455.1" y="462.9" font-size="8.6" fill="#333" textLength="12.4" lengthAdjust="spacingAndGlyphs">1.5</text>
<line x1="471.90" y1="498.30" x2="475.70" y2="498.30" stroke="#666" stroke-width="0.9"/>
<text x="454.9" y="501.4" font-size="8.6" fill="#333" textLength="12.6" lengthAdjust="spacingAndGlyphs">1.0</text>
<line x1="471.90" y1="536.80" x2="475.70" y2="536.80" stroke="#666" stroke-width="0.9"/>
<text x="453.6" y="539.9" font-size="8.6" fill="#333" textLength="14.0" lengthAdjust="spacingAndGlyphs">0.5</text>
<line x1="471.90" y1="575.30" x2="475.70" y2="575.30" stroke="#666" stroke-width="0.9"/>
<text x="461.7" y="578.4" font-size="8.6" fill="#333" textLength="5.9" lengthAdjust="spacingAndGlyphs">0</text>
<line x1="471.90" y1="575.30" x2="548.80" y2="575.30" stroke="#555" stroke-width="0.9"/>
<text x="-0.89" y="0" font-size="10.8" fill="#231f20" textLength="79.58" lengthAdjust="spacingAndGlyphs" transform="translate(444.80,556.50) rotate(-90)">Relative viability</text>
<path d="M484.10,575.30V498.30H497.70V575.30" fill="none" stroke="#111" stroke-width="1.2"/>
<circle cx="486.10" cy="498.30" r="2.3" fill="#000"/>
<circle cx="490.90" cy="498.30" r="2.3" fill="#000"/>
<circle cx="495.70" cy="498.30" r="2.3" fill="#000"/>
<line x1="490.90" y1="575.30" x2="490.90" y2="579.60" stroke="#555" stroke-width="0.9"/>
<path d="M505.80,575.30V539.11H519.40V575.30" fill="none" stroke="#c4c4c4" stroke-width="1.2"/>
<line x1="512.60" y1="542.96" x2="512.60" y2="536.03" stroke="#c4c4c4" stroke-width="0.8"/>
<line x1="510.10" y1="536.03" x2="515.10" y2="536.03" stroke="#c4c4c4" stroke-width="0.8"/>
<line x1="510.10" y1="542.96" x2="515.10" y2="542.96" stroke="#c4c4c4" stroke-width="0.8"/>
<rect x="505.16" y="533.89" width="4.27" height="4.27" fill="#b0b0b0"/>
<rect x="510.46" y="541.98" width="4.27" height="4.27" fill="#b0b0b0"/>
<rect x="515.96" y="536.59" width="4.27" height="4.27" fill="#b0b0b0"/>
<line x1="512.60" y1="575.30" x2="512.60" y2="579.60" stroke="#555" stroke-width="0.9"/>
<path d="M527.40,575.30V553.74H541.00V575.30" fill="none" stroke="#1c2f9c" stroke-width="1.2"/>
<line x1="534.20" y1="557.59" x2="534.20" y2="552.97" stroke="#1c2f9c" stroke-width="0.8"/>
<line x1="531.70" y1="552.97" x2="536.70" y2="552.97" stroke="#1c2f9c" stroke-width="0.8"/>
<line x1="531.70" y1="557.59" x2="536.70" y2="557.59" stroke="#1c2f9c" stroke-width="0.8"/>
<path d="M526.73,555.60L531.68,555.60L529.20,551.10Z" fill="#1c2f9c"/>
<path d="M531.33,560.61L536.28,560.61L533.80,556.11Z" fill="#1c2f9c"/>
<path d="M536.62,557.14L541.58,557.14L539.10,552.64Z" fill="#1c2f9c"/>
<line x1="534.20" y1="575.30" x2="534.20" y2="579.60" stroke="#555" stroke-width="0.9"/>
<text x="0" y="0" font-size="11.2" fill="#231f20" text-anchor="end" textLength="29" lengthAdjust="spacingAndGlyphs" transform="translate(495.9,588.8) rotate(-45)">DMSO</text>
<text x="0" y="0" font-size="11.2" fill="#231f20" text-anchor="end" textLength="37" lengthAdjust="spacingAndGlyphs" transform="translate(517.6,588.8) rotate(-45)">Vehicle</text>
<text x="0" y="0" font-size="11.2" fill="#231f20" text-anchor="end" textLength="47" lengthAdjust="spacingAndGlyphs" transform="translate(539.2,588.8) rotate(-45)">Aspartate</text>
<line x1="506.00" y1="624.30" x2="541.20" y2="624.30" stroke="#555" stroke-width="0.95"/>
<text x="512.1" y="636.0" font-size="10.6" fill="#231f20" textLength="23.8" lengthAdjust="spacingAndGlyphs">TTFA</text>
<path d="M490.40,489.50V480.70H512.30V527.40" fill="none" stroke="#8a8a8a" stroke-width="0.9"/>
<text x="479.6" y="474.1" font-size="8.6" fill="#231f20" textLength="44.5" lengthAdjust="spacingAndGlyphs"><tspan font-style="italic">P</tspan> &lt; 0.0001</text>
<path d="M490.40,461.80V452.70H534.60V544.90" fill="none" stroke="#8a8a8a" stroke-width="0.9"/>
<text x="490.1" y="446.0" font-size="8.6" fill="#231f20" textLength="44.9" lengthAdjust="spacingAndGlyphs"><tspan font-style="italic">P</tspan> &lt; 0.0001</text>
<line x1="606.50" y1="449.00" x2="606.50" y2="575.30" stroke="#bdbdbd" stroke-width="1.3"/>
<line x1="602.10" y1="449.00" x2="605.90" y2="449.00" stroke="#666" stroke-width="0.9"/>
<text x="585.3" y="452.1" font-size="8.6" fill="#333" textLength="12.4" lengthAdjust="spacingAndGlyphs">1.5</text>
<line x1="602.10" y1="491.10" x2="605.90" y2="491.10" stroke="#666" stroke-width="0.9"/>
<text x="585.1" y="494.2" font-size="8.6" fill="#333" textLength="12.6" lengthAdjust="spacingAndGlyphs">1.0</text>
<line x1="602.10" y1="533.20" x2="605.90" y2="533.20" stroke="#666" stroke-width="0.9"/>
<text x="583.8" y="536.3" font-size="8.6" fill="#333" textLength="14.0" lengthAdjust="spacingAndGlyphs">0.5</text>
<line x1="602.10" y1="575.30" x2="605.90" y2="575.30" stroke="#666" stroke-width="0.9"/>
<text x="591.9" y="578.4" font-size="8.6" fill="#333" textLength="5.9" lengthAdjust="spacingAndGlyphs">0</text>
<line x1="602.10" y1="575.30" x2="683.90" y2="575.30" stroke="#555" stroke-width="0.9"/>
<text x="-0.89" y="0" font-size="10.8" fill="#231f20" textLength="79.99" lengthAdjust="spacingAndGlyphs" transform="translate(574.10,550.50) rotate(-90)">Relative viability</text>
<path d="M614.60,575.30V491.10H629.40V575.30" fill="none" stroke="#111" stroke-width="1.2"/>
<circle cx="617.20" cy="491.10" r="2.3" fill="#000"/>
<circle cx="622.00" cy="491.10" r="2.3" fill="#000"/>
<circle cx="626.80" cy="491.10" r="2.3" fill="#000"/>
<line x1="622.00" y1="575.30" x2="622.00" y2="579.60" stroke="#555" stroke-width="0.9"/>
<path d="M638.50,575.30V563.76H653.30V575.30" fill="none" stroke="#c4c4c4" stroke-width="1.2"/>
<rect x="638.76" y="562.22" width="4.27" height="4.27" fill="#b0b0b0"/>
<rect x="644.06" y="560.95" width="4.27" height="4.27" fill="#b0b0b0"/>
<rect x="648.76" y="561.37" width="4.27" height="4.27" fill="#b0b0b0"/>
<line x1="645.90" y1="575.30" x2="645.90" y2="579.60" stroke="#555" stroke-width="0.9"/>
<path d="M662.20,575.30V566.04H677.00V575.30" fill="none" stroke="#1c2f9c" stroke-width="1.2"/>
<path d="M661.73,569.13L666.68,569.13L664.20,564.63Z" fill="#1c2f9c"/>
<path d="M667.12,565.76L672.08,565.76L669.60,561.26Z" fill="#1c2f9c"/>
<path d="M672.52,567.02L677.48,567.02L675.00,562.52Z" fill="#1c2f9c"/>
<line x1="669.60" y1="575.30" x2="669.60" y2="579.60" stroke="#555" stroke-width="0.9"/>
<text x="0" y="0" font-size="11.2" fill="#231f20" text-anchor="end" textLength="29" lengthAdjust="spacingAndGlyphs" transform="translate(627.0,588.8) rotate(-45)">DMSO</text>
<text x="0" y="0" font-size="11.2" fill="#231f20" text-anchor="end" textLength="37" lengthAdjust="spacingAndGlyphs" transform="translate(650.9,588.8) rotate(-45)">Vehicle</text>
<text x="0" y="0" font-size="11.2" fill="#231f20" text-anchor="end" textLength="23" lengthAdjust="spacingAndGlyphs" transform="translate(674.6,588.8) rotate(-45)">α-KB</text>
<line x1="637.70" y1="622.20" x2="676.50" y2="622.20" stroke="#555" stroke-width="0.95"/>
<text x="645.5" y="635.9" font-size="10.6" fill="#231f20" textLength="23.9" lengthAdjust="spacingAndGlyphs">TTFA</text>
<path d="M621.60,481.40V474.90H645.60V541.20" fill="none" stroke="#8a8a8a" stroke-width="0.9"/>
<text x="611.7" y="467.4" font-size="8.6" fill="#231f20" textLength="44.4" lengthAdjust="spacingAndGlyphs"><tspan font-style="italic">P</tspan> &lt; 0.0001</text>
<path d="M621.60,454.40V448.10H669.60V541.20" fill="none" stroke="#8a8a8a" stroke-width="0.9"/>
<text x="623.4" y="440.8" font-size="8.6" fill="#231f20" textLength="44.5" lengthAdjust="spacingAndGlyphs"><tspan font-style="italic">P</tspan> &lt; 0.0001</text>
</svg></body></html>
